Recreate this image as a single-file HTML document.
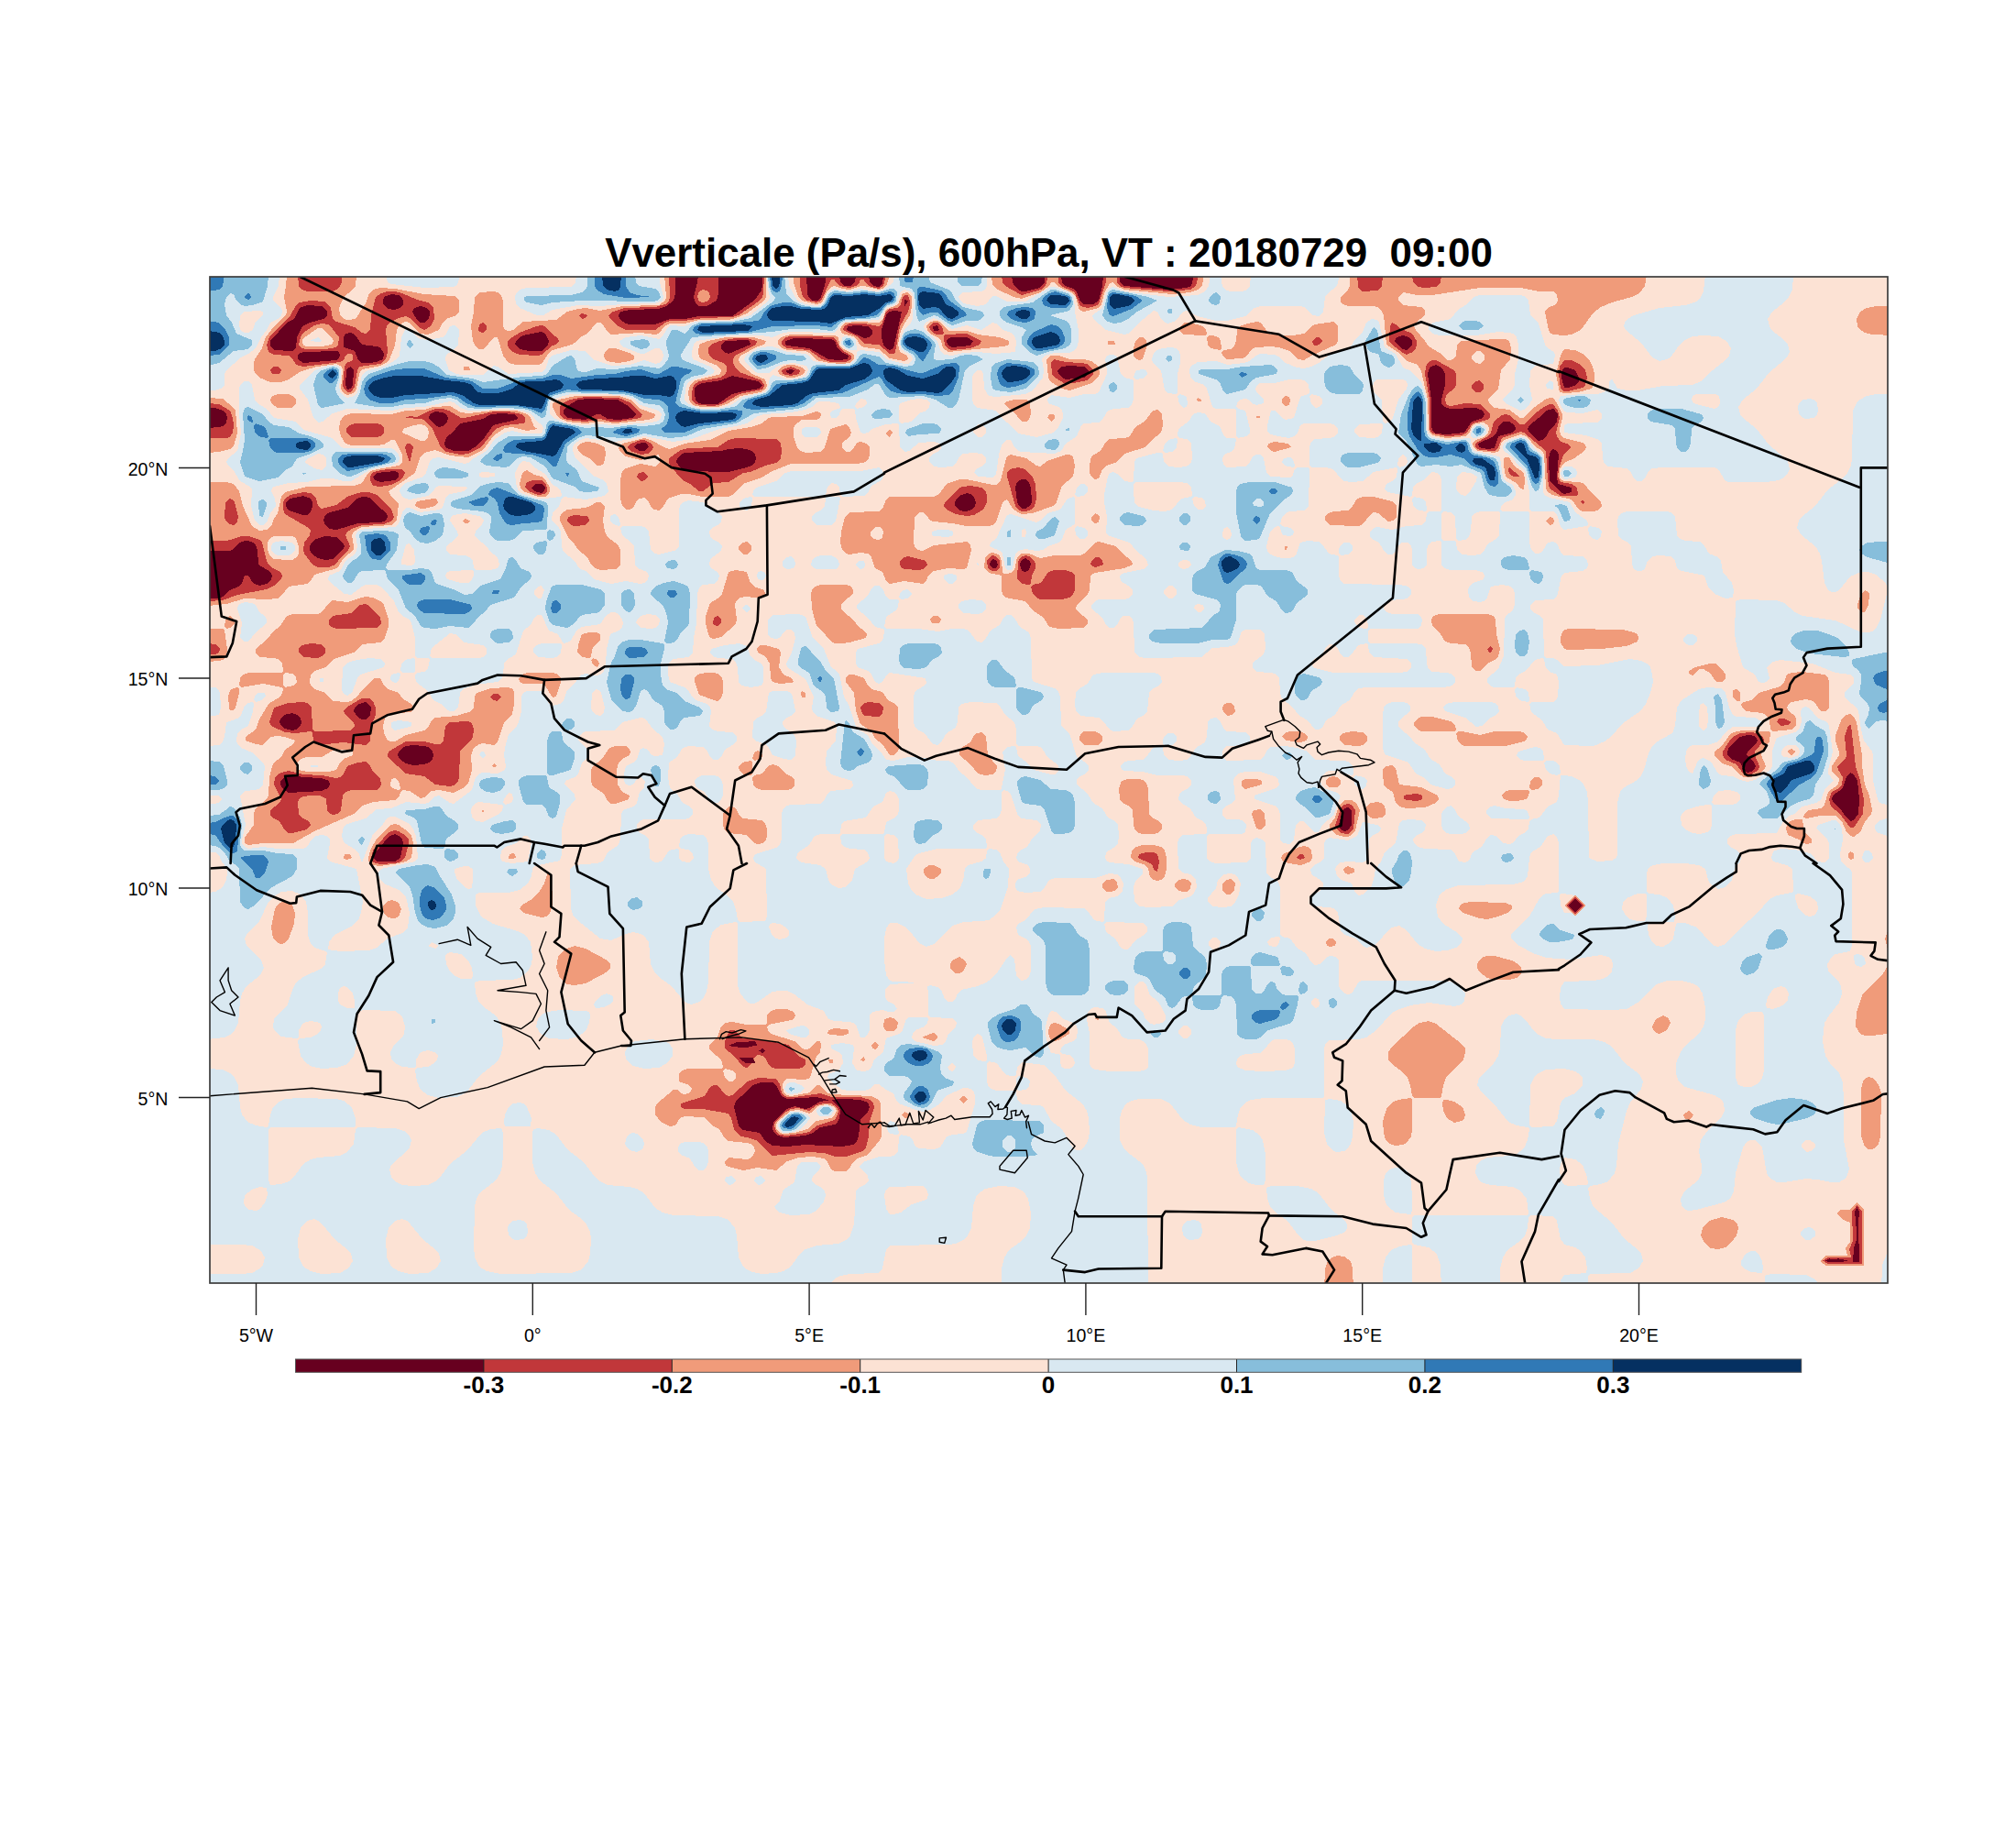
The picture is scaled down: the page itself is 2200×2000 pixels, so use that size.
<!DOCTYPE html>
<html lang="fr"><head><meta charset="utf-8"><title>Vverticale (Pa/s), 600hPa</title>
<style>
html,body{margin:0;padding:0;background:#fff}
body{width:2200px;height:2000px;overflow:hidden;font-family:"Liberation Sans",sans-serif}
svg{display:block}
.t{font-family:"Liberation Sans",sans-serif;fill:#000}
.ttl{font-weight:bold;font-size:43.9px;text-anchor:middle;white-space:pre}
.ax{font-size:19.6px}
.cb{font-weight:bold;font-size:26px;text-anchor:middle}
.bd{fill:none;stroke:#000;stroke-width:2.6;stroke-linejoin:round;stroke-linecap:round}
.bt{fill:none;stroke:#000;stroke-width:1.4;stroke-linejoin:round;stroke-linecap:round}
</style></head><body>
<svg width="2200" height="2000" viewBox="0 0 2200 2000">
<rect width="2200" height="2000" fill="#fff"/>
<defs><clipPath id="mc"><rect x="229" y="302" width="1831" height="1098"/></clipPath></defs>
<g clip-path="url(#mc)" shape-rendering="crispEdges">
<rect x="229" y="302" width="1831" height="1098" fill="#fce2d4"/>
<path fill="#d9e8f1" fill-rule="evenodd" d="M227,300 305,300 304,312 298,324 298,328 307,336 308,340 307,344 303,348 295,352 291,360 285,368 279,380 271,386 263,390 247,404 245,408 245,420 243,423 235,426 227,426 227,300ZM267,340 262,344 261,356 263,361 267,363 271,363 276,360 279,351 287,344 287,340 283,339 267,340ZM421,300 501,300 501,304 499,311 495,313 463,314 427,310 423,308 421,300ZM629,300 720,300 720,308 724,324 723,328 715,331 679,332 655,334 631,333 603,338 593,344 586,344 567,336 563,332 562,324 563,320 567,316 575,314 623,313 628,308 629,300ZM837,300 860,300 861,312 870,328 879,332 891,334 897,332 900,328 903,320 907,316 911,315 923,318 939,315 955,318 963,317 975,308 976,300 1077,300 1077,312 1075,316 1071,318 1051,319 1049,320 1046,324 1048,328 1051,331 1067,334 1076,332 1083,323 1087,323 1099,329 1119,329 1147,313 1151,313 1167,319 1172,324 1173,340 1177,360 1177,372 1175,380 1171,383 1167,385 1151,385 1140,388 1137,392 1139,404 1138,412 1127,426 1119,430 1087,433 1079,432 1074,424 1073,408 1071,404 1066,404 1062,408 1061,412 1061,436 1063,442 1067,445 1087,448 1095,458 1103,464 1111,473 1131,477 1150,472 1155,466 1160,456 1160,452 1159,448 1155,444 1144,440 1143,435 1147,431 1167,434 1183,430 1195,430 1199,428 1208,408 1208,404 1206,392 1208,388 1211,387 1215,387 1219,389 1223,408 1227,412 1235,414 1237,416 1237,436 1235,442 1231,445 1215,446 1209,448 1203,458 1199,461 1183,462 1180,464 1175,476 1163,484 1158,492 1151,495 1115,493 1111,492 1107,488 1103,480 1098,480 1094,484 1090,496 1087,518 1083,521 1068,520 1063,516 1065,512 1073,508 1076,504 1076,500 1071,495 1063,494 1051,495 1047,498 1043,506 1039,509 1027,510 1019,509 1014,504 1014,500 1017,496 1025,492 1027,489 1026,484 1019,482 1003,483 992,492 987,493 982,488 981,464 979,462 967,463 951,468 947,472 943,473 939,472 934,456 933,448 931,446 919,446 917,448 916,452 913,456 907,456 906,452 907,449 911,447 915,446 917,444 915,440 903,438 895,438 891,439 886,444 879,447 863,450 833,452 827,454 815,462 803,465 785,468 755,479 735,482 703,476 671,482 639,478 633,480 627,484 625,488 625,492 628,500 647,519 659,524 662,528 664,536 659,541 639,545 615,542 613,544 610,552 603,559 602,568 610,576 612,580 613,596 615,602 627,612 632,620 641,624 648,632 667,637 683,634 699,637 703,636 707,632 708,628 706,624 696,620 693,616 692,596 689,592 679,584 677,576 679,574 699,574 705,576 708,580 710,600 714,604 719,605 735,601 738,600 741,596 741,556 742,552 745,548 751,546 767,548 777,556 785,560 788,564 787,569 785,572 777,576 774,580 775,585 777,588 785,592 788,596 787,601 775,610 774,616 776,620 783,624 785,628 784,632 779,637 767,638 763,641 761,648 760,680 757,696 756,712 751,717 735,719 731,722 729,728 729,736 731,744 747,750 751,753 755,760 759,764 771,768 775,772 776,776 774,792 777,796 783,798 799,799 804,804 804,808 801,812 791,818 787,826 783,829 779,829 775,826 771,818 767,815 751,814 745,816 739,826 730,832 729,848 731,860 739,866 745,876 753,880 756,884 756,888 753,892 747,894 703,894 699,895 695,899 695,905 697,908 705,912 708,916 709,936 711,939 715,941 722,940 730,928 739,926 741,928 741,936 744,940 751,941 754,940 757,936 756,932 751,927 743,926 741,924 742,916 745,912 751,910 767,911 771,914 773,920 773,948 776,960 781,968 795,978 800,984 803,992 805,1004 807,1006 835,1005 837,1000 836,948 823,940 822,936 824,932 847,925 851,922 853,916 853,888 855,882 859,879 863,878 895,877 899,874 903,866 907,863 927,861 931,857 930,852 907,845 902,840 901,832 902,820 912,808 913,792 911,788 891,781 887,777 886,772 888,760 879,741 859,728 858,724 864,712 867,700 868,696 867,691 863,687 859,687 855,690 851,696 847,697 841,696 838,692 838,676 843,671 871,670 875,671 879,673 887,696 899,708 907,728 913,732 916,736 921,760 927,771 934,792 937,796 947,802 952,812 961,820 967,829 975,830 991,826 1003,826 1023,830 1035,830 1039,832 1043,836 1047,842 1055,848 1063,858 1067,861 1071,862 1091,862 1093,860 1097,840 1094,820 1099,815 1107,814 1109,816 1111,825 1121,832 1128,840 1147,845 1151,845 1155,841 1155,835 1143,826 1137,816 1131,814 1111,814 1109,812 1109,796 1107,788 1097,780 1091,770 1087,767 1059,766 1049,768 1046,772 1045,788 1043,794 1033,800 1027,810 1023,813 1018,812 1009,800 1001,796 998,792 997,788 997,760 999,754 1009,748 1011,745 1010,740 971,734 967,737 963,744 959,746 955,744 951,736 947,732 936,728 934,724 934,712 936,708 959,702 963,699 964,696 965,688 963,686 955,684 947,674 935,664 935,660 947,650 951,642 955,639 959,639 963,642 967,651 971,654 979,654 981,656 979,665 967,673 965,684 967,686 1003,686 1023,689 1039,686 1051,686 1057,688 1066,700 1071,701 1075,698 1081,688 1091,682 1095,674 1099,671 1103,671 1107,674 1113,684 1123,690 1125,696 1126,740 1128,744 1151,751 1155,754 1157,760 1158,792 1167,800 1175,826 1185,832 1188,836 1188,840 1185,844 1177,848 1175,851 1175,856 1187,866 1193,876 1203,882 1209,892 1217,896 1220,900 1221,912 1220,920 1217,924 1207,930 1206,936 1208,940 1211,941 1231,943 1247,948 1247,953 1239,962 1237,968 1238,984 1243,989 1255,990 1279,989 1287,982 1299,978 1303,974 1306,968 1305,960 1299,954 1290,952 1286,948 1285,920 1287,914 1291,911 1315,910 1317,908 1317,904 1316,900 1313,896 1305,892 1299,882 1289,876 1286,872 1287,867 1289,864 1297,860 1300,856 1300,852 1297,848 1291,846 1263,846 1247,842 1227,841 1224,840 1223,836 1226,832 1231,830 1247,829 1251,826 1258,816 1267,814 1269,816 1270,824 1275,829 1287,830 1295,829 1299,826 1305,816 1315,810 1317,804 1318,788 1321,784 1327,783 1331,786 1336,796 1339,798 1359,799 1364,804 1364,808 1359,813 1339,814 1336,816 1334,820 1334,824 1335,827 1339,830 1375,829 1379,826 1383,818 1387,815 1403,814 1415,816 1427,820 1435,829 1467,830 1473,832 1476,836 1477,840 1477,844 1475,846 1459,841 1451,841 1447,842 1441,848 1441,852 1442,856 1445,860 1459,865 1463,868 1455,890 1443,900 1439,908 1434,908 1423,896 1418,896 1414,900 1412,916 1407,921 1400,920 1397,916 1397,888 1395,882 1391,879 1369,872 1369,868 1371,867 1393,860 1396,856 1395,851 1391,847 1375,842 1359,842 1351,844 1347,848 1346,852 1348,872 1345,876 1337,880 1334,884 1334,888 1335,891 1339,894 1351,894 1357,896 1360,900 1359,908 1355,910 1319,910 1317,912 1317,936 1320,940 1327,942 1359,941 1362,940 1365,936 1365,920 1367,916 1371,914 1378,916 1381,920 1382,952 1385,956 1395,962 1397,968 1397,1020 1399,1022 1408,1024 1415,1034 1425,1040 1431,1050 1435,1053 1440,1052 1448,1044 1451,1043 1458,1044 1461,1048 1461,1076 1463,1080 1467,1084 1471,1085 1475,1084 1483,1071 1487,1070 1575,1070 1583,1071 1592,1076 1599,1084 1598,1092 1595,1096 1587,1098 1559,1094 1539,1097 1527,1101 1519,1105 1502,1124 1491,1132 1483,1134 1451,1135 1447,1138 1445,1144 1445,1192 1445,1196 1443,1198 1379,1198 1365,1200 1359,1203 1354,1208 1351,1216 1349,1228 1347,1230 1311,1230 1299,1227 1291,1222 1277,1204 1267,1199 1243,1199 1235,1201 1229,1204 1224,1212 1222,1220 1222,1244 1226,1252 1229,1256 1247,1270 1250,1276 1252,1284 1253,1408 1093,1408 1093,1384 1096,1372 1101,1364 1115,1354 1120,1348 1124,1340 1125,1324 1122,1308 1117,1300 1107,1295 1091,1294 1075,1297 1066,1304 1062,1316 1060,1340 1056,1348 1051,1353 1043,1357 1035,1358 971,1359 967,1364 963,1384 959,1389 927,1390 917,1392 911,1395 907,1399 905,1404 905,1408 227,1408 227,1390 263,1390 275,1389 284,1384 287,1380 289,1372 284,1364 275,1359 263,1358 227,1358 227,1166 243,1167 251,1171 255,1174 260,1184 262,1208 264,1216 270,1224 279,1228 291,1230 293,1228 295,1216 298,1208 303,1203 311,1199 327,1198 367,1199 375,1201 384,1208 388,1220 388,1228 387,1230 295,1230 293,1232 293,1248 293,1288 295,1293 307,1292 315,1289 321,1284 331,1270 339,1265 347,1263 371,1261 379,1257 386,1248 388,1232 391,1230 431,1231 443,1235 447,1240 449,1244 447,1252 443,1257 431,1267 427,1271 425,1276 427,1284 431,1289 439,1293 451,1294 467,1293 475,1289 479,1286 491,1270 509,1256 526,1236 535,1232 547,1231 549,1236 549,1260 548,1272 546,1280 541,1288 523,1302 520,1308 518,1316 517,1360 518,1372 523,1382 531,1387 547,1390 623,1389 635,1385 642,1376 644,1368 645,1352 644,1344 640,1336 635,1330 621,1320 607,1302 589,1288 584,1280 581,1268 581,1236 582,1232 587,1231 599,1233 607,1238 619,1254 637,1268 649,1284 655,1289 663,1293 687,1295 695,1297 703,1302 715,1318 723,1323 735,1326 783,1327 795,1331 802,1340 804,1348 806,1372 810,1380 813,1384 821,1388 831,1390 847,1389 855,1387 863,1382 873,1368 879,1363 891,1359 915,1357 923,1353 928,1348 932,1336 934,1300 937,1296 945,1292 948,1288 947,1283 939,1275 938,1272 942,1268 959,1262 971,1262 977,1260 980,1256 981,1240 983,1238 992,1240 996,1244 999,1251 1003,1253 1019,1254 1026,1252 1033,1240 1039,1238 1051,1237 1055,1235 1064,1204 1064,1196 1063,1192 1059,1188 1055,1187 1051,1187 1032,1196 1026,1204 1020,1208 1015,1211 1007,1213 999,1211 981,1204 978,1200 975,1193 967,1189 959,1183 955,1183 949,1188 943,1190 927,1190 919,1189 907,1180 903,1176 904,1172 915,1168 920,1160 919,1152 915,1148 907,1144 907,1140 919,1138 931,1140 932,1144 930,1160 935,1168 943,1169 947,1168 951,1164 954,1156 964,1148 967,1133 981,1128 985,1124 989,1112 991,1110 999,1110 1011,1110 1013,1112 1012,1116 1009,1120 999,1124 996,1128 995,1132 998,1136 1019,1141 1028,1140 1032,1136 1035,1128 1043,1121 1044,1116 1039,1111 1015,1110 1013,1108 1013,1084 1012,1076 1015,1075 1023,1077 1027,1080 1031,1090 1035,1093 1039,1093 1043,1090 1045,1084 1049,1080 1067,1076 1076,1072 1082,1068 1089,1060 1099,1045 1103,1042 1107,1047 1109,1064 1111,1067 1115,1070 1119,1069 1123,1066 1125,1060 1125,1032 1123,1028 1119,1024 1111,1020 1109,1012 1111,1008 1119,1004 1129,992 1139,990 1183,991 1187,994 1194,1004 1203,1006 1205,1004 1206,984 1210,980 1219,978 1225,972 1226,964 1223,958 1219,954 1211,953 1195,958 1151,958 1145,960 1139,970 1135,973 1119,974 1110,972 1108,968 1108,964 1110,960 1121,956 1124,952 1124,948 1122,944 1111,940 1109,936 1110,932 1113,928 1121,924 1127,914 1135,907 1136,900 1131,895 1115,893 1111,890 1103,866 1099,863 1095,862 1093,864 1093,884 1091,890 1087,893 1067,895 1062,900 1062,904 1065,908 1073,912 1076,916 1077,924 1075,926 1023,926 1003,931 999,933 989,948 991,964 995,972 999,976 1011,981 1027,980 1039,976 1047,970 1051,961 1053,948 1056,944 1071,940 1075,937 1076,936 1077,928 1079,926 1087,927 1091,930 1095,940 1101,948 1100,968 1092,992 1087,998 1079,1004 1071,1005 1051,1006 1039,1010 1019,1030 1011,1033 1003,1029 993,1016 987,1011 979,1007 971,1007 967,1013 965,1024 965,1048 967,1064 971,1070 975,1071 1006,1072 971,1074 966,1080 966,1088 968,1092 976,1096 979,1101 975,1104 969,1104 963,1102 952,1104 949,1108 949,1124 947,1128 943,1132 939,1132 935,1120 931,1116 927,1115 911,1114 904,1112 899,1103 881,1096 867,1085 859,1081 851,1081 843,1082 827,1093 823,1095 819,1095 814,1092 808,1084 805,1076 805,1012 805,1008 803,1006 787,1009 778,1016 774,1028 773,1072 771,1082 768,1088 763,1093 755,1096 751,1095 746,1092 733,1076 719,1066 714,1060 710,1052 708,1028 703,1021 699,1019 691,1017 683,1019 667,1026 655,1024 630,1004 626,1000 623,991 622,948 627,944 651,942 658,940 663,930 675,922 677,916 678,888 680,884 691,880 695,876 698,864 703,859 704,852 699,848 695,850 691,856 687,857 683,856 681,852 681,844 683,836 691,832 695,828 699,817 702,816 707,818 711,824 715,825 723,824 725,812 723,804 713,796 704,784 699,783 679,788 671,797 639,798 635,800 631,804 631,808 643,819 643,824 635,833 631,844 627,848 617,852 616,856 627,867 628,872 618,884 613,904 613,932 611,939 583,945 581,948 580,956 576,964 567,971 555,974 523,974 519,976 519,988 525,1000 538,1008 565,1016 573,1020 579,1028 581,1044 580,1052 576,1060 567,1067 559,1069 523,1070 518,1072 519,1084 522,1092 527,1098 541,1108 546,1116 548,1124 549,1140 547,1150 543,1158 523,1174 509,1192 499,1197 479,1198 467,1195 459,1189 455,1180 453,1168 455,1165 467,1164 474,1160 477,1156 478,1152 474,1148 467,1146 459,1148 454,1156 454,1164 451,1165 439,1164 431,1160 427,1156 426,1148 430,1140 439,1132 441,1128 442,1120 439,1109 431,1103 399,1102 391,1103 389,1104 389,1140 386,1152 379,1161 367,1165 351,1166 341,1164 334,1160 328,1152 325,1136 327,1133 339,1132 347,1128 350,1124 351,1120 349,1116 339,1114 331,1116 326,1124 326,1132 323,1133 307,1131 299,1124 298,1120 299,1112 314,1096 319,1080 323,1072 331,1066 352,1056 355,1052 356,1044 357,1040 355,1038 343,1034 339,1030 336,1020 336,996 334,984 328,976 319,972 307,973 299,978 293,984 283,1005 269,1020 267,1024 269,1032 285,1048 288,1056 284,1064 269,1076 264,1084 262,1092 260,1116 256,1124 251,1129 245,1132 227,1134 227,974 235,973 243,968 247,960 248,952 248,948 242,940 239,933 235,930 227,930 227,878 239,876 242,872 239,868 227,868 227,814 239,813 243,810 245,804 247,788 259,784 263,780 267,770 271,767 275,766 277,768 276,776 271,792 263,796 259,800 258,808 259,812 263,816 275,821 287,832 289,836 287,856 284,860 279,862 267,863 262,868 268,900 264,916 264,920 267,924 271,926 287,924 303,926 331,926 335,924 340,916 345,912 351,911 356,912 360,916 360,920 357,936 360,940 389,948 396,984 394,996 391,1004 383,1011 365,1020 359,1028 358,1036 371,1038 403,1037 411,1034 423,1024 439,1018 445,1012 447,996 443,979 435,971 419,964 415,960 412,952 416,948 453,940 456,936 454,912 451,905 447,899 431,891 427,891 423,892 415,903 407,910 395,941 392,932 389,928 375,919 373,912 375,902 379,899 399,893 411,883 427,882 443,875 463,877 467,876 475,869 479,868 491,876 495,877 515,862 519,848 523,844 527,843 543,844 551,840 552,836 550,824 551,816 555,801 563,794 566,788 569,776 569,760 571,756 575,754 591,754 599,768 603,770 611,768 615,764 619,753 627,746 634,736 639,735 651,737 655,736 659,732 661,724 662,708 666,692 675,688 679,684 680,680 679,676 675,670 671,668 667,668 661,672 655,681 635,684 629,688 623,699 619,701 615,702 609,692 599,688 591,671 587,671 583,674 579,682 571,688 563,714 553,720 550,724 549,736 547,741 543,744 519,747 505,752 502,756 500,772 495,776 491,776 487,774 481,768 473,764 467,754 455,745 453,740 453,736 455,734 463,733 467,729 469,720 467,718 455,718 453,716 453,696 449,680 447,676 439,672 435,668 430,656 419,643 415,640 411,638 399,638 395,640 383,649 376,648 361,636 358,632 359,628 371,623 373,620 377,612 388,604 390,596 388,584 391,579 399,577 431,575 435,572 439,559 443,554 447,554 459,559 479,556 483,554 487,542 491,539 507,536 510,532 507,531 479,530 475,532 473,536 467,541 447,545 443,544 439,542 436,536 437,532 443,527 462,520 465,516 469,504 472,500 479,499 507,506 511,505 517,500 531,492 539,480 551,472 559,470 571,473 591,473 593,468 592,464 586,460 580,452 571,448 551,446 523,448 511,448 503,445 495,439 491,438 463,444 443,445 427,448 379,446 363,451 352,460 347,461 342,456 336,436 327,424 327,420 343,404 359,399 367,399 370,400 372,404 372,412 370,420 371,428 375,432 379,434 383,433 387,432 390,428 395,409 399,405 419,400 433,392 436,388 438,368 443,358 447,359 455,368 459,370 467,371 483,368 487,364 491,356 495,355 498,356 501,360 500,376 497,380 487,387 486,392 490,404 498,408 503,409 527,409 539,399 543,400 555,408 591,406 595,403 599,392 602,388 623,382 639,383 647,392 667,399 687,398 703,393 715,397 719,396 723,392 724,388 723,384 719,380 715,380 703,386 699,386 679,378 677,376 676,372 683,368 699,366 719,370 723,367 727,360 731,355 747,356 759,351 767,350 799,350 819,344 839,328 840,324 838,316 837,300ZM983,318 979,330 975,333 967,336 959,349 923,351 919,353 911,363 863,362 855,363 843,368 831,366 799,366 760,372 757,376 755,384 755,388 756,392 775,400 780,404 778,408 759,413 751,417 748,424 747,436 750,440 763,446 787,445 799,441 811,433 834,428 838,424 840,412 843,409 859,414 871,413 879,410 882,404 881,400 879,399 867,396 855,397 848,400 839,407 827,407 822,404 814,396 812,392 814,388 827,380 839,378 843,378 859,384 879,386 883,388 887,394 903,397 927,397 934,392 935,384 939,382 959,384 967,392 987,397 991,397 996,392 995,388 983,381 982,372 987,359 994,352 996,348 997,324 995,319 991,317 987,316 983,318ZM1019,347 1010,352 1008,356 1009,360 1023,372 1027,384 1031,387 1039,388 1051,385 1067,384 1087,386 1108,384 1109,372 1107,367 1103,363 1095,360 1087,353 1083,352 1071,360 1055,355 1039,359 1035,357 1027,350 1019,347ZM1067,463 1062,468 1062,472 1067,477 1071,477 1076,472 1076,468 1071,463 1067,463ZM699,672 695,676 694,680 699,685 711,686 715,685 719,682 720,676 715,671 707,670 699,672ZM843,1007 840,1008 839,1012 843,1021 847,1024 851,1025 859,1023 861,1020 861,1016 858,1012 851,1008 843,1007ZM971,863 967,865 963,875 953,880 945,892 921,896 918,900 917,908 915,910 895,910 889,912 883,922 871,930 869,936 871,939 875,941 895,944 901,948 904,960 907,965 915,969 923,968 930,960 933,948 947,940 949,936 947,930 943,927 927,926 921,924 918,920 917,912 919,910 963,910 965,908 967,897 977,892 980,888 981,884 981,872 979,868 975,864 971,863ZM1291,1119 1286,1124 1286,1128 1291,1133 1295,1133 1300,1128 1300,1124 1295,1119 1291,1119ZM1335,954 1329,960 1327,969 1318,980 1318,984 1323,989 1335,990 1343,989 1347,986 1352,976 1354,964 1351,958 1347,954 1343,953 1335,954ZM1387,1023 1383,1028 1385,1032 1391,1033 1394,1032 1396,1028 1397,1024 1395,1022 1387,1023ZM1435,1089 1431,1092 1431,1096 1435,1100 1439,1099 1440,1096 1439,1090 1435,1089ZM283,1295 275,1298 267,1304 266,1312 267,1316 272,1320 279,1321 283,1320 289,1312 292,1304 291,1296 283,1295ZM335,1332 328,1340 325,1352 326,1372 331,1382 339,1387 351,1390 371,1389 380,1384 385,1376 383,1368 380,1364 365,1352 352,1336 347,1332 343,1330 335,1332ZM431,1332 424,1340 421,1352 422,1372 427,1382 435,1387 447,1390 467,1389 476,1384 481,1376 479,1368 476,1364 461,1352 448,1336 444,1332 439,1330 431,1332ZM971,1295 967,1298 965,1304 967,1319 971,1325 975,1325 983,1323 995,1314 1011,1309 1013,1304 1011,1297 1007,1294 971,1295ZM1039,1160 1034,1164 1036,1168 1039,1169 1041,1168 1043,1164 1039,1160ZM1067,1128 1063,1131 1061,1136 1062,1152 1067,1157 1075,1158 1077,1156 1077,1152 1072,1132 1071,1130 1067,1128ZM1079,1158 1077,1160 1077,1180 1078,1184 1081,1188 1087,1190 1107,1190 1109,1192 1110,1200 1115,1205 1135,1206 1139,1208 1147,1223 1159,1232 1171,1253 1175,1255 1179,1255 1183,1252 1187,1245 1189,1236 1188,1220 1186,1212 1181,1204 1163,1190 1153,1176 1141,1164 1139,1162 1115,1159 1110,1164 1109,1172 1107,1174 1103,1174 1099,1173 1095,1170 1088,1160 1079,1158ZM1147,1103 1144,1108 1141,1120 1141,1128 1143,1139 1147,1149 1155,1150 1157,1152 1157,1160 1159,1165 1163,1166 1167,1166 1171,1164 1173,1160 1172,1156 1167,1151 1159,1150 1157,1148 1158,1144 1161,1140 1171,1136 1175,1132 1176,1124 1175,1120 1171,1116 1161,1112 1152,1104 1147,1103ZM1195,1099 1191,1100 1187,1104 1186,1112 1189,1128 1189,1160 1190,1164 1195,1167 1211,1169 1243,1169 1251,1167 1253,1164 1253,1156 1253,1144 1251,1140 1247,1136 1243,1134 1231,1134 1225,1132 1219,1122 1211,1116 1207,1104 1203,1100 1195,1099ZM1207,1006 1205,1008 1207,1017 1217,1024 1223,1034 1227,1036 1231,1036 1239,1026 1249,1020 1252,1016 1252,1012 1247,1007 1207,1006ZM375,1076 371,1078 369,1084 369,1092 371,1096 379,1100 387,1100 387,1092 385,1084 379,1077 375,1076ZM471,1028 467,1032 475,1035 479,1032 471,1028ZM491,1039 487,1041 486,1044 487,1052 491,1060 495,1064 503,1068 515,1068 516,1064 515,1056 511,1048 503,1041 491,1039ZM499,947 496,948 496,952 499,960 507,968 511,970 515,969 516,960 516,948 511,945 507,945 499,947ZM523,875 519,876 515,880 514,884 515,892 520,896 527,897 531,895 545,888 548,884 549,880 547,878 523,875ZM555,865 550,872 549,876 551,878 558,876 560,872 559,866 555,865ZM575,912 571,912 563,920 551,924 547,928 546,936 548,940 559,942 576,940 580,920 579,915 575,912ZM651,752 646,756 645,772 646,776 650,780 655,781 659,777 660,772 656,756 655,754 651,752ZM443,594 438,612 438,616 447,617 452,616 453,612 452,600 447,593 443,594ZM507,560 495,562 492,564 491,568 499,580 500,584 497,588 487,596 487,601 491,605 507,606 513,608 516,612 517,620 519,622 535,622 543,620 545,616 543,608 535,602 531,596 521,588 518,584 519,580 526,572 528,568 527,566 523,563 507,560ZM527,515 523,516 523,520 527,521 540,520 540,516 527,515ZM571,503 567,506 562,516 563,528 566,536 571,539 587,544 595,544 611,542 613,540 612,536 609,532 603,529 595,517 583,510 577,504 571,503ZM615,432 602,436 600,440 600,452 604,456 619,462 635,464 655,463 671,464 711,461 719,459 721,456 722,452 719,448 699,442 691,435 683,432 663,430 623,430 615,432ZM939,435 934,440 933,444 935,446 943,444 946,440 945,436 939,435ZM995,436 982,440 981,444 981,460 983,462 995,460 1003,451 1011,448 1014,444 1015,440 1011,436 1003,435 995,436ZM967,910 965,912 965,936 967,940 975,942 979,940 981,936 980,916 975,911 967,910ZM1323,1023 1319,1028 1319,1032 1323,1036 1327,1036 1331,1033 1332,1028 1327,1023 1323,1023ZM1387,1136 1379,1146 1375,1149 1359,1150 1353,1152 1350,1156 1349,1160 1350,1164 1359,1168 1379,1169 1403,1168 1411,1165 1413,1160 1413,1152 1413,1144 1411,1138 1407,1135 1403,1134 1391,1134 1387,1136ZM1243,1071 1238,1076 1238,1096 1247,1104 1250,1112 1254,1116 1259,1118 1268,1116 1272,1112 1272,1108 1267,1098 1263,1092 1255,1086 1251,1074 1247,1071 1243,1071ZM491,623 488,624 486,628 488,632 503,636 511,636 515,632 517,628 517,624 515,622 491,623ZM587,640 583,644 583,648 587,653 591,653 594,644 591,639 587,640ZM491,691 471,707 469,716 471,718 523,718 529,716 531,713 531,708 527,704 507,701 497,692 491,691ZM1321,300 1333,300 1333,308 1335,314 1339,317 1343,318 1355,318 1361,316 1364,312 1365,300 1461,300 1461,304 1459,312 1449,320 1446,324 1444,340 1439,345 1432,344 1425,336 1419,334 1375,334 1369,336 1359,345 1339,350 1327,350 1307,345 1295,339 1291,340 1283,350 1275,353 1271,352 1267,348 1263,340 1259,339 1243,352 1231,364 1227,365 1207,360 1193,348 1192,344 1199,339 1203,335 1207,320 1211,314 1215,313 1227,318 1275,324 1307,322 1315,318 1319,312 1321,300ZM1861,300 1957,300 1956,316 1952,324 1947,330 1934,340 1929,348 1931,356 1933,360 1947,371 1951,376 1953,384 1951,388 1947,393 1931,406 1917,424 1902,436 1897,444 1899,452 1902,456 1917,468 1931,486 1947,499 1951,504 1953,512 1951,516 1947,521 1941,524 1927,526 1887,526 1883,525 1875,512 1871,510 1815,510 1803,511 1799,514 1795,522 1791,525 1787,525 1783,522 1779,514 1775,511 1755,509 1751,506 1749,500 1748,484 1745,480 1731,475 1707,472 1707,464 1711,462 1743,461 1748,456 1748,452 1743,447 1727,451 1711,450 1707,449 1702,440 1701,436 1703,432 1727,430 1743,430 1750,428 1756,424 1756,416 1759,413 1765,424 1775,426 1787,426 1815,421 1847,420 1856,416 1869,404 1884,392 1887,388 1889,380 1884,372 1875,367 1859,366 1847,367 1839,371 1833,376 1823,390 1819,392 1811,394 1803,390 1791,374 1775,361 1772,356 1773,352 1776,348 1783,344 1811,336 1839,333 1851,329 1856,324 1859,318 1861,300ZM1851,430 1847,432 1846,436 1848,440 1851,441 1871,446 1875,444 1877,440 1877,436 1875,431 1871,430 1851,430ZM1608,324 1615,322 1631,322 1659,322 1665,324 1668,328 1670,344 1679,353 1686,376 1689,380 1696,384 1697,388 1695,397 1675,399 1670,404 1669,420 1672,436 1667,444 1663,447 1659,448 1643,440 1640,436 1651,424 1653,420 1653,408 1657,392 1657,376 1655,368 1651,364 1647,363 1635,362 1611,366 1571,366 1563,364 1559,360 1559,356 1563,352 1583,348 1591,338 1601,332 1608,324ZM379,340 383,340 379,340ZM1497,348 1503,349 1505,352 1511,379 1523,386 1531,401 1538,404 1551,416 1557,436 1557,468 1559,474 1563,477 1579,480 1603,478 1605,480 1606,488 1608,492 1631,497 1635,498 1637,500 1640,520 1643,525 1651,529 1654,536 1654,540 1651,545 1643,548 1639,551 1637,556 1639,558 1667,558 1669,560 1669,592 1671,600 1675,604 1679,604 1683,602 1689,592 1695,591 1699,593 1704,604 1707,606 1727,607 1732,612 1733,616 1732,620 1727,623 1707,625 1704,628 1700,648 1698,652 1695,654 1675,655 1670,660 1670,664 1673,668 1681,672 1684,676 1685,716 1687,718 1695,718 1699,720 1707,727 1743,726 1779,719 1791,721 1797,724 1801,728 1803,736 1804,744 1801,756 1796,768 1790,776 1771,789 1758,804 1751,809 1739,814 1707,813 1699,800 1689,796 1683,786 1671,777 1669,768 1671,766 1695,766 1699,763 1700,760 1701,744 1699,736 1691,733 1687,729 1685,720 1683,718 1675,720 1665,732 1657,736 1654,740 1653,748 1651,750 1631,750 1627,749 1623,745 1623,740 1635,730 1641,716 1642,676 1643,672 1651,666 1653,660 1653,648 1652,644 1649,640 1639,638 1627,640 1623,652 1619,656 1615,657 1608,656 1603,652 1602,644 1603,640 1607,636 1619,632 1620,628 1619,625 1611,622 1583,622 1576,620 1573,616 1573,592 1571,590 1563,591 1559,594 1557,600 1557,616 1554,620 1547,621 1544,620 1541,616 1541,600 1540,596 1536,592 1530,592 1527,594 1523,602 1519,605 1515,605 1511,602 1505,592 1497,588 1495,585 1495,580 1499,576 1503,575 1519,578 1535,574 1551,573 1556,568 1557,560 1559,558 1571,558 1573,556 1573,524 1572,520 1569,516 1563,515 1561,516 1553,524 1545,528 1542,532 1541,540 1539,542 1515,537 1513,536 1511,533 1513,528 1521,524 1524,520 1525,512 1523,510 1499,515 1487,525 1475,526 1467,525 1463,522 1455,512 1447,510 1431,510 1429,508 1429,488 1431,482 1435,479 1451,478 1457,476 1460,472 1460,468 1457,464 1451,462 1423,462 1419,464 1416,472 1412,476 1407,478 1395,476 1387,474 1383,471 1383,464 1387,448 1391,448 1399,456 1403,458 1412,456 1419,433 1427,430 1429,428 1428,420 1425,416 1419,414 1407,414 1391,418 1375,418 1372,420 1370,424 1371,428 1379,435 1379,440 1371,442 1366,440 1363,436 1359,435 1353,436 1350,440 1349,444 1351,446 1359,448 1364,468 1364,472 1360,476 1351,478 1349,476 1349,448 1347,446 1327,446 1323,444 1317,424 1314,420 1303,416 1299,412 1298,404 1299,400 1307,395 1327,394 1339,398 1358,396 1363,394 1371,388 1375,386 1391,387 1395,389 1403,396 1415,401 1423,402 1431,400 1439,396 1451,387 1473,380 1479,370 1487,362 1491,352 1497,348ZM1503,414 1499,417 1498,424 1499,428 1508,436 1509,460 1511,462 1515,461 1520,456 1526,436 1535,424 1536,420 1535,416 1531,414 1503,414ZM1575,558 1573,560 1573,588 1575,590 1587,590 1589,592 1590,600 1595,605 1607,606 1615,605 1619,602 1623,594 1633,588 1636,584 1637,560 1635,558 1615,558 1609,560 1606,564 1605,580 1603,586 1599,589 1591,590 1589,588 1588,564 1583,559 1575,558ZM1595,515 1590,520 1589,532 1590,536 1594,540 1599,541 1603,538 1611,525 1612,520 1605,516 1595,515ZM1431,430 1429,432 1431,441 1435,445 1440,444 1443,440 1443,436 1439,432 1431,430ZM1483,463 1478,468 1478,472 1483,477 1499,478 1505,476 1508,472 1509,464 1507,462 1483,463ZM1531,496 1526,500 1525,508 1527,510 1534,508 1536,504 1535,499 1531,496ZM919,368 923,367 931,369 934,372 935,382 927,382 922,380 918,376 919,368ZM338,372 347,368 352,372 347,373 338,372ZM1268,380 1279,379 1283,380 1287,384 1288,388 1288,396 1285,408 1285,428 1283,430 1275,429 1271,426 1267,404 1258,396 1257,392 1259,385 1263,382 1268,380ZM1240,404 1247,403 1251,404 1252,408 1247,413 1239,414 1237,412 1238,408 1240,404ZM266,416 271,416 275,420 278,436 281,440 291,446 299,456 323,460 331,469 363,478 371,487 375,489 427,489 431,491 435,496 436,500 435,504 427,508 405,512 383,525 375,525 363,522 351,522 335,526 315,527 299,531 297,532 296,536 300,544 301,552 295,560 291,570 287,573 283,573 278,568 274,552 275,534 274,532 261,524 255,513 249,508 247,504 249,500 259,492 260,488 263,472 261,452 261,424 262,420 266,416ZM347,495 337,500 332,504 343,511 351,513 356,508 356,500 353,496 347,495ZM1690,416 1691,415 1695,417 1695,425 1688,424 1687,420 1690,416ZM1285,432 1287,430 1291,431 1295,433 1296,440 1295,444 1291,445 1287,441 1285,432ZM2037,432 2047,430 2067,430 2067,812 2063,812 2060,824 2060,844 2063,872 2062,876 2059,878 2051,876 2049,872 2044,852 2044,824 2043,820 2034,808 2031,796 2028,776 2026,772 2016,764 2013,760 2013,756 2015,753 2023,745 2023,739 2019,736 2003,734 1978,724 1943,720 1935,722 1928,728 1931,740 1928,744 1923,745 1919,744 1915,736 1902,728 1895,704 1893,692 1894,656 1899,654 1939,655 1947,658 1959,668 1967,672 2003,677 2031,690 2039,690 2043,689 2048,684 2052,676 2059,648 2059,640 2058,636 2047,627 2039,624 2031,624 2019,629 2007,644 2003,646 1999,646 1995,644 1991,636 1988,612 1986,604 1981,596 1966,584 1961,576 1963,568 1966,564 1981,552 1995,534 2011,522 2016,516 2020,508 2021,500 2022,448 2027,438 2037,432ZM1968,436 1975,435 1979,436 1983,440 1984,448 1983,452 1979,456 1971,457 1967,456 1963,452 1962,444 1963,440 1968,436ZM1302,452 1307,450 1315,451 1321,460 1331,465 1336,476 1339,478 1347,478 1349,480 1347,489 1343,493 1336,496 1334,500 1335,507 1339,510 1359,509 1363,506 1367,498 1371,496 1375,496 1379,500 1382,516 1387,520 1407,521 1410,520 1413,512 1415,510 1427,510 1429,512 1428,552 1423,557 1407,558 1403,560 1399,564 1397,572 1399,574 1408,576 1412,580 1411,584 1407,585 1400,584 1398,580 1397,576 1395,574 1391,575 1386,580 1382,596 1383,601 1385,604 1391,607 1399,609 1407,609 1411,608 1415,604 1419,592 1427,590 1439,591 1443,594 1450,604 1459,606 1461,608 1461,628 1463,634 1467,637 1527,638 1537,640 1540,644 1540,648 1537,652 1531,654 1515,655 1510,660 1510,664 1513,668 1519,670 1547,670 1551,673 1552,676 1551,683 1547,686 1543,686 1495,686 1493,688 1493,700 1495,702 1543,702 1551,703 1556,708 1557,724 1559,730 1563,733 1579,734 1585,736 1588,740 1588,744 1585,748 1575,750 1491,750 1483,751 1479,754 1473,764 1463,770 1457,780 1447,786 1443,794 1439,796 1435,796 1427,786 1417,780 1411,772 1399,762 1397,756 1396,740 1393,736 1387,734 1371,733 1367,729 1367,723 1379,714 1381,708 1380,692 1375,687 1359,687 1355,689 1351,700 1347,704 1339,706 1323,707 1311,717 1251,718 1243,717 1238,712 1237,680 1236,676 1232,672 1226,672 1223,674 1219,682 1215,685 1211,685 1207,682 1203,674 1191,664 1191,660 1195,656 1199,654 1227,654 1233,652 1236,648 1236,644 1233,640 1223,634 1222,628 1227,625 1247,621 1250,620 1253,616 1251,610 1239,600 1233,592 1211,585 1207,582 1208,564 1205,548 1205,540 1209,520 1211,516 1215,515 1219,517 1227,525 1235,526 1237,524 1238,504 1240,500 1263,494 1267,494 1269,496 1270,504 1275,509 1287,510 1297,508 1300,504 1301,500 1300,484 1295,479 1287,478 1285,476 1285,472 1287,467 1297,460 1302,452ZM1303,542 1301,544 1303,552 1307,556 1312,556 1316,552 1315,547 1311,543 1303,542ZM1339,575 1335,577 1334,584 1335,587 1339,589 1343,587 1344,584 1343,578 1339,575ZM1451,703 1447,706 1443,714 1433,720 1431,723 1433,728 1435,729 1455,734 1527,734 1535,733 1540,728 1540,724 1535,719 1499,717 1494,712 1493,704 1491,702 1482,704 1475,714 1471,717 1467,717 1463,714 1459,706 1456,704 1451,703ZM1483,671 1478,676 1479,681 1483,685 1491,686 1493,684 1492,676 1487,671 1483,671ZM1239,526 1237,528 1237,536 1238,548 1239,550 1243,553 1259,557 1271,558 1279,556 1289,544 1299,542 1301,540 1300,532 1295,527 1287,526 1239,526ZM1307,659 1304,660 1303,664 1307,668 1311,668 1314,664 1313,660 1307,659ZM1275,639 1270,644 1270,648 1275,653 1279,653 1284,648 1284,644 1279,639 1275,639ZM1291,611 1287,613 1286,616 1287,619 1291,621 1296,620 1300,616 1299,613 1295,611 1291,611ZM1610,464 1615,463 1619,464 1622,468 1622,472 1619,475 1611,478 1607,478 1605,476 1606,468 1610,464ZM875,468 879,466 891,466 895,468 896,472 891,477 879,477 875,474 875,468ZM1275,480 1283,478 1285,480 1284,488 1279,493 1271,494 1269,492 1270,488 1271,484 1275,480ZM1647,480 1659,477 1663,477 1668,480 1675,490 1683,496 1685,504 1684,536 1685,540 1691,543 1713,548 1719,559 1732,568 1733,572 1731,574 1707,578 1703,575 1699,561 1695,558 1671,558 1669,556 1669,536 1665,516 1663,512 1655,506 1651,499 1641,492 1640,488 1641,484 1647,480ZM1401,500 1407,499 1410,500 1412,504 1413,508 1411,510 1402,508 1399,504 1401,500ZM950,512 959,510 962,512 964,516 964,520 962,524 951,530 947,538 943,541 919,542 917,540 916,532 912,528 907,527 903,531 901,540 903,542 915,542 917,544 912,568 907,573 891,573 886,568 886,564 889,560 897,556 900,552 901,544 899,542 823,542 821,540 822,536 825,532 847,525 857,516 863,514 939,514 950,512ZM1705,512 1707,509 1715,509 1720,512 1721,516 1720,520 1715,522 1707,523 1704,520 1703,516 1705,512ZM1175,532 1179,528 1183,528 1187,532 1187,536 1183,541 1175,542 1173,540 1175,532ZM811,544 819,542 821,544 820,552 815,557 810,556 807,552 807,548 811,544ZM1165,544 1171,542 1173,544 1173,572 1163,578 1159,588 1155,592 1144,596 1138,600 1131,601 1119,599 1111,601 1108,604 1105,620 1103,622 1099,622 1097,620 1094,604 1091,601 1080,596 1081,592 1087,588 1099,562 1103,561 1131,570 1135,568 1143,560 1157,556 1165,544ZM1115,578 1115,586 1119,586 1120,580 1119,577 1115,578ZM1541,544 1543,542 1552,544 1556,548 1557,556 1555,558 1546,556 1542,552 1541,544ZM1769,560 1775,558 1791,558 1819,558 1825,560 1828,564 1830,584 1833,588 1839,590 1855,591 1859,594 1865,604 1875,608 1878,612 1880,624 1890,636 1892,644 1891,652 1883,653 1871,648 1864,640 1860,628 1835,623 1830,620 1828,612 1823,607 1811,606 1803,607 1798,612 1795,621 1791,623 1787,623 1783,621 1781,616 1780,596 1777,592 1769,588 1766,584 1765,568 1766,564 1769,560ZM666,564 667,562 671,561 675,564 677,572 675,574 669,572 666,568 666,564ZM1173,576 1175,574 1183,576 1187,580 1187,584 1183,588 1178,588 1174,584 1173,576ZM1733,576 1735,574 1744,576 1748,580 1747,585 1743,589 1738,588 1734,584 1733,576ZM1017,580 1023,578 1035,578 1040,580 1040,584 1035,586 1019,585 1017,584 1017,580ZM298,592 307,590 319,592 322,596 322,600 319,604 315,606 303,606 299,604 296,600 296,596 298,592ZM1466,592 1472,592 1476,596 1476,600 1471,605 1463,606 1461,604 1461,600 1462,596 1466,592ZM858,608 863,607 867,610 868,616 866,620 859,621 855,619 854,616 854,612 858,608ZM889,608 895,606 907,606 911,608 915,612 916,616 914,620 911,621 891,621 888,620 885,616 886,612 889,608ZM937,612 943,612 944,616 943,620 939,621 935,618 934,616 937,612ZM1066,616 1067,613 1068,616 1067,617 1066,616ZM827,624 831,623 835,625 836,628 834,632 831,633 827,632 826,628 827,624ZM1030,628 1035,626 1039,626 1044,628 1044,632 1039,637 1035,637 1030,632 1030,628ZM985,644 991,643 995,648 991,653 983,654 981,652 982,648 985,644ZM1049,656 1059,654 1071,655 1076,660 1076,664 1073,668 1067,670 1051,669 1046,664 1046,660 1049,656ZM260,660 267,657 275,658 279,660 283,668 289,672 291,676 291,680 279,690 271,700 267,700 262,696 264,680 259,664 260,660ZM813,660 816,660 819,664 815,668 810,664 813,660ZM1842,692 1847,692 1851,694 1852,696 1852,700 1847,704 1843,704 1839,702 1837,700 1837,696 1842,692ZM585,704 591,702 611,702 613,704 612,712 609,716 603,718 587,717 582,712 582,708 585,704ZM791,704 807,702 815,705 819,716 823,720 831,724 833,728 833,744 831,748 819,750 809,748 806,744 805,728 803,722 799,719 783,718 778,716 775,712 776,708 791,704ZM390,720 403,718 415,719 420,724 419,728 393,736 390,740 384,756 379,759 374,756 373,752 374,728 379,723 390,720ZM442,720 451,718 453,720 453,732 451,734 439,734 437,732 438,724 442,720ZM427,736 435,734 437,736 436,740 434,744 431,745 427,743 426,740 427,736ZM1193,736 1203,734 1259,734 1263,735 1267,739 1268,744 1265,748 1257,752 1254,756 1252,776 1249,780 1241,784 1235,794 1231,797 1215,798 1211,796 1203,786 1199,783 1179,781 1174,776 1173,768 1174,756 1177,752 1187,746 1193,736ZM349,740 353,740 353,744 349,744 349,740ZM227,752 227,750 235,750 239,753 240,756 241,772 239,780 227,782 227,752ZM1653,752 1655,750 1664,752 1668,756 1669,764 1667,766 1658,764 1654,760 1653,752ZM1854,752 1863,750 1879,751 1883,756 1887,772 1891,780 1895,782 1915,783 1924,788 1923,792 1919,793 1891,793 1883,799 1875,809 1863,813 1847,813 1843,815 1840,820 1839,828 1840,836 1843,842 1847,844 1852,832 1855,828 1859,827 1867,831 1875,844 1879,846 1891,847 1899,851 1907,853 1915,851 1923,846 1932,840 1934,836 1934,820 1939,805 1959,799 1963,796 1966,788 1965,776 1967,772 1971,771 1975,773 1983,783 1994,788 1996,792 2000,820 1995,840 1995,844 2001,852 1992,860 1987,873 1982,876 1967,880 1958,888 1951,891 1946,896 1939,909 1895,910 1891,911 1887,913 1885,916 1885,920 1888,924 1896,928 1899,932 1900,936 1899,940 1893,948 1890,960 1883,968 1875,970 1867,965 1864,960 1861,948 1854,944 1839,942 1815,942 1804,944 1799,947 1797,952 1797,972 1799,975 1811,976 1820,980 1826,988 1828,1000 1827,1006 1799,1007 1798,1012 1799,1020 1803,1028 1807,1032 1815,1033 1823,1028 1826,1024 1829,1008 1831,1007 1839,1007 1852,1012 1866,1028 1871,1032 1875,1033 1883,1030 1900,1012 1918,996 1931,981 1939,977 1955,974 1957,972 1956,948 1950,944 1935,940 1933,936 1935,929 1943,926 1959,927 1975,931 1977,932 1983,940 1991,941 1996,936 1996,920 1994,916 1982,904 1984,900 1999,895 2003,895 2007,898 2010,904 2011,916 2008,932 2009,940 2015,946 2019,948 2021,952 2021,1032 2019,1038 2003,1041 1999,1044 1994,1052 1995,1060 2007,1072 2009,1076 2010,1084 2007,1094 1996,1108 1991,1116 1990,1124 1989,1136 1992,1152 1997,1160 2007,1171 2011,1181 2012,1200 2012,1244 2018,1276 2015,1285 2007,1290 1999,1290 1983,1287 1971,1286 1947,1290 1939,1290 1931,1285 1928,1280 1923,1252 1919,1247 1915,1244 1910,1244 1907,1245 1902,1252 1894,1280 1892,1300 1888,1308 1881,1312 1851,1320 1843,1321 1839,1320 1835,1316 1834,1308 1838,1300 1853,1288 1857,1280 1857,1272 1854,1256 1856,1244 1863,1234 1878,1220 1882,1212 1881,1204 1879,1200 1871,1195 1839,1186 1832,1180 1829,1172 1829,1160 1834,1148 1839,1141 1854,1128 1859,1120 1861,1112 1861,1100 1858,1084 1853,1076 1847,1073 1835,1070 1819,1070 1807,1074 1787,1094 1775,1101 1759,1102 1707,1101 1703,1095 1702,1088 1703,1078 1707,1071 1739,1070 1749,1068 1755,1065 1759,1060 1760,1052 1759,1048 1755,1044 1747,1042 1715,1047 1687,1045 1675,1041 1658,1032 1649,1024 1649,1020 1652,1016 1669,1000 1679,982 1683,977 1687,975 1699,974 1701,972 1701,920 1699,913 1695,910 1689,912 1681,924 1671,930 1669,936 1667,956 1663,962 1651,965 1591,966 1579,970 1571,976 1567,988 1569,1000 1575,1008 1591,1018 1596,1024 1595,1028 1591,1033 1579,1037 1567,1038 1555,1035 1547,1030 1535,1015 1527,1010 1519,1012 1515,1015 1504,1028 1499,1032 1491,1034 1487,1032 1479,1024 1467,1020 1463,1016 1460,996 1457,992 1451,990 1435,989 1431,985 1431,979 1433,976 1441,972 1444,968 1444,964 1441,960 1431,954 1430,948 1434,944 1442,940 1445,936 1445,920 1447,916 1451,914 1471,917 1481,912 1487,897 1503,900 1507,904 1505,908 1497,912 1494,916 1493,936 1491,939 1487,941 1471,940 1463,941 1459,944 1457,948 1459,956 1463,960 1475,964 1479,974 1483,977 1487,976 1496,968 1499,960 1501,948 1507,940 1511,930 1523,920 1527,898 1531,895 1539,894 1551,895 1556,900 1555,905 1553,908 1545,912 1542,916 1543,920 1547,924 1555,926 1583,927 1587,930 1592,940 1599,941 1603,939 1607,930 1617,924 1623,914 1627,911 1632,912 1640,920 1647,921 1651,920 1657,912 1665,908 1668,904 1669,896 1671,894 1680,892 1689,880 1699,875 1701,868 1703,846 1707,846 1715,847 1723,851 1728,856 1732,864 1733,876 1734,936 1743,940 1759,939 1764,936 1765,932 1765,876 1768,864 1771,860 1787,851 1791,846 1794,840 1799,822 1803,814 1807,810 1825,800 1828,792 1830,772 1835,764 1854,752ZM1859,767 1855,769 1854,780 1854,792 1855,794 1859,797 1863,794 1864,784 1863,772 1859,767ZM1851,880 1839,884 1835,888 1834,892 1835,900 1839,905 1847,909 1855,910 1863,908 1867,904 1868,900 1868,880 1867,878 1863,878 1851,880ZM1875,863 1870,868 1869,872 1868,876 1871,878 1891,878 1896,876 1899,872 1899,868 1895,864 1887,862 1875,863ZM1923,871 1922,872 1923,871ZM1947,815 1944,820 1944,824 1947,826 1955,827 1963,824 1964,820 1963,816 1959,813 1951,813 1947,815ZM1911,1104 1903,1107 1899,1111 1896,1116 1894,1124 1894,1176 1897,1184 1903,1186 1911,1186 1919,1182 1923,1176 1925,1168 1925,1108 1923,1104 1911,1104ZM1935,1079 1929,1088 1927,1096 1928,1100 1935,1101 1943,1098 1947,1096 1951,1091 1952,1084 1950,1080 1947,1077 1943,1076 1935,1079ZM1963,975 1959,976 1959,980 1963,992 1971,999 1975,1000 1979,999 1982,996 1984,992 1983,984 1975,978 1963,975ZM1703,975 1702,976 1703,988 1707,996 1715,996 1724,992 1726,988 1726,984 1723,980 1715,976 1703,975ZM1787,975 1775,980 1771,984 1770,992 1775,1000 1779,1003 1787,1005 1795,1005 1797,1000 1797,976 1795,975 1787,975ZM1975,1244 1971,1244 1966,1248 1966,1252 1971,1257 1976,1256 1981,1252 1981,1248 1975,1244ZM281,756 289,756 290,760 285,764 279,766 277,764 278,760 281,756ZM839,756 843,754 859,754 863,756 865,760 868,776 865,780 857,784 854,788 855,793 867,802 869,808 868,824 863,829 855,828 843,824 839,816 835,812 824,808 821,804 822,788 825,784 833,780 836,776 839,756ZM1513,768 1519,766 1531,766 1535,767 1539,771 1539,776 1529,784 1526,788 1526,792 1529,796 1539,804 1543,810 1555,818 1561,828 1571,834 1577,844 1585,848 1588,852 1588,856 1584,860 1579,861 1561,856 1553,848 1545,844 1537,832 1511,823 1509,816 1509,780 1510,772 1513,768ZM1578,768 1587,766 1627,766 1631,767 1635,771 1636,776 1633,780 1625,784 1617,792 1611,793 1599,783 1577,776 1575,772 1578,768ZM427,788 435,786 449,788 449,792 447,793 431,797 427,794 427,788ZM1274,800 1280,800 1284,804 1284,808 1279,813 1271,814 1269,812 1269,808 1270,804 1274,800ZM1671,816 1675,815 1680,816 1684,820 1685,828 1683,830 1671,830 1663,830 1658,828 1655,824 1657,820 1671,816ZM525,820 528,820 530,824 527,827 523,824 525,820ZM1685,832 1687,830 1695,830 1699,832 1702,836 1703,844 1699,846 1691,844 1687,840 1685,832ZM334,836 343,835 351,836 343,837 334,836ZM761,848 767,846 779,846 783,847 787,850 789,856 789,868 787,872 783,876 778,876 775,874 769,864 761,860 759,857 758,852 761,848ZM1477,848 1479,846 1488,848 1492,852 1491,857 1487,861 1482,860 1478,856 1477,848ZM1580,880 1583,879 1587,882 1591,890 1603,899 1604,904 1601,908 1595,910 1583,910 1579,909 1575,906 1573,900 1573,888 1575,884 1580,880ZM1626,880 1631,879 1643,882 1663,883 1667,885 1669,892 1667,894 1627,893 1622,888 1622,884 1626,880ZM2061,892 2063,888 2067,888 2067,940 2063,940 2061,936 2061,920 2059,912 2048,908 2046,904 2046,900 2050,896 2061,892ZM2036,928 2039,928 2043,932 2044,936 2039,941 2035,941 2032,936 2033,932 2035,928 2036,928ZM2023,1044 2023,1042 2027,1041 2031,1042 2035,1046 2036,1052 2031,1055 2027,1054 2024,1052 2023,1044ZM662,1084 667,1086 669,1088 669,1092 667,1095 659,1099 650,1100 648,1096 650,1092 655,1087 662,1084ZM597,1104 611,1102 639,1103 643,1104 644,1108 643,1116 639,1125 631,1131 619,1134 599,1133 590,1128 585,1120 587,1112 591,1107 597,1104ZM1647,1108 1655,1106 1659,1108 1664,1112 1675,1126 1679,1129 1687,1133 1699,1134 1739,1134 1751,1137 1759,1142 1773,1160 1789,1172 1793,1180 1791,1188 1779,1203 1775,1212 1766,1248 1764,1272 1762,1280 1755,1289 1747,1292 1735,1294 1733,1296 1735,1308 1739,1317 1759,1334 1773,1352 1788,1364 1791,1368 1793,1376 1788,1384 1779,1389 1735,1390 1733,1392 1733,1408 1702,1408 1703,1397 1707,1391 1731,1389 1732,1384 1730,1372 1724,1364 1719,1361 1707,1358 1706,1356 1703,1352 1699,1332 1695,1327 1671,1326 1668,1328 1667,1340 1664,1348 1659,1354 1645,1364 1640,1372 1637,1384 1637,1408 1573,1408 1572,1380 1568,1368 1559,1361 1543,1358 1541,1356 1541,1332 1541,1328 1543,1326 1667,1326 1668,1324 1666,1308 1659,1299 1651,1295 1627,1293 1619,1291 1614,1288 1610,1280 1611,1272 1615,1267 1623,1263 1647,1261 1655,1259 1663,1253 1667,1244 1669,1232 1667,1230 1655,1228 1646,1224 1630,1204 1617,1192 1612,1184 1614,1176 1630,1160 1635,1152 1637,1144 1638,1120 1642,1112 1647,1108ZM1687,1167 1679,1171 1675,1174 1670,1184 1669,1228 1671,1230 1695,1229 1699,1223 1703,1204 1705,1200 1707,1198 1719,1193 1727,1184 1727,1176 1724,1172 1719,1169 1707,1166 1687,1167ZM1707,1263 1703,1270 1702,1276 1703,1286 1706,1292 1711,1294 1731,1293 1733,1292 1732,1284 1727,1271 1719,1265 1707,1263ZM871,1120 875,1119 880,1120 883,1124 883,1128 879,1132 875,1132 861,1128 858,1124 871,1120ZM693,1136 711,1134 727,1137 731,1139 734,1144 734,1152 728,1160 719,1165 703,1166 691,1163 683,1156 682,1148 686,1140 693,1136ZM1109,1176 1111,1174 1120,1176 1124,1180 1123,1185 1119,1189 1111,1190 1109,1188 1109,1176ZM858,1184 859,1182 863,1181 867,1181 874,1184 878,1188 873,1192 863,1194 858,1192 856,1188 858,1184ZM1446,1200 1451,1199 1463,1201 1471,1207 1474,1212 1477,1224 1476,1240 1474,1248 1471,1253 1467,1256 1459,1257 1455,1256 1448,1248 1445,1236 1446,1200ZM560,1204 567,1203 571,1204 575,1208 580,1220 579,1229 551,1229 550,1224 551,1216 555,1208 560,1204ZM894,1208 903,1206 908,1208 910,1212 907,1217 903,1218 895,1218 892,1216 891,1212 894,1208ZM859,1216 863,1213 871,1213 880,1216 884,1220 879,1227 873,1232 863,1236 855,1236 850,1232 849,1228 850,1224 859,1216ZM970,1224 971,1223 975,1224 979,1228 981,1236 979,1238 971,1237 970,1236 968,1232 968,1228 970,1224ZM1349,1232 1351,1230 1367,1233 1375,1239 1378,1244 1381,1260 1381,1288 1379,1293 1371,1293 1363,1291 1355,1285 1352,1280 1349,1268 1349,1232ZM684,1240 687,1237 691,1236 695,1237 699,1240 702,1244 703,1248 702,1252 699,1255 695,1257 687,1255 684,1252 682,1248 684,1240ZM742,1248 747,1246 755,1246 763,1246 769,1248 772,1252 773,1256 773,1268 771,1274 767,1277 763,1277 759,1274 753,1264 743,1260 740,1256 740,1252 742,1248ZM875,1268 891,1268 896,1272 894,1276 887,1283 886,1288 889,1292 897,1296 900,1300 901,1304 899,1311 891,1321 883,1325 863,1326 851,1323 847,1320 845,1316 851,1310 855,1298 867,1290 870,1272 875,1268ZM1516,1276 1523,1274 1531,1275 1535,1277 1539,1283 1541,1304 1541,1320 1540,1324 1539,1325 1523,1323 1515,1317 1512,1312 1510,1304 1510,1288 1512,1280 1516,1276ZM792,1284 799,1283 803,1288 800,1292 795,1293 791,1288 792,1284ZM825,1284 831,1283 835,1288 832,1292 827,1293 823,1288 825,1284ZM1382,1296 1387,1294 1415,1294 1431,1297 1439,1302 1453,1320 1468,1332 1470,1336 1470,1340 1468,1344 1459,1348 1435,1354 1427,1354 1423,1353 1417,1348 1405,1332 1391,1322 1386,1316 1383,1308 1382,1296ZM560,1332 567,1331 571,1332 575,1336 576,1344 575,1348 571,1352 563,1353 559,1352 555,1348 554,1340 555,1336 560,1332ZM1296,1332 1303,1331 1307,1332 1311,1336 1312,1344 1311,1348 1307,1352 1299,1353 1295,1352 1291,1348 1290,1340 1291,1336 1296,1332ZM1969,1340 1975,1339 1979,1341 1981,1344 1981,1348 1979,1350 1975,1353 1971,1353 1967,1350 1965,1348 1965,1344 1969,1340ZM1527,1360 1539,1358 1541,1360 1541,1408 1509,1408 1509,1384 1512,1372 1518,1364 1527,1360ZM1905,1368 1911,1365 1915,1365 1919,1368 1923,1376 1924,1384 1923,1389 1911,1388 1903,1384 1900,1380 1900,1376 1905,1368ZM2059,1368 2063,1365 2067,1365 2067,1408 2053,1408 2054,1380 2059,1368ZM1926,1392 1927,1391 1935,1390 1971,1391 1979,1395 1983,1399 1985,1404 1985,1408 1925,1408 1926,1392Z"/>
<path fill="#87bedb" fill-rule="evenodd" d="M227,300 293,300 292,312 287,329 275,333 267,334 262,332 258,328 255,321 251,320 247,324 245,332 247,344 253,352 258,364 275,371 275,376 271,381 255,383 239,396 231,398 227,398 227,300ZM641,300 693,300 694,308 697,312 715,315 719,318 721,324 718,328 711,329 635,328 603,330 591,333 575,330 572,328 572,324 575,323 623,322 635,319 639,316 641,312 641,300ZM838,300 856,300 858,320 865,328 875,333 887,335 895,335 899,332 905,320 911,317 927,319 943,317 959,319 971,315 975,315 979,318 978,328 975,331 967,334 959,346 947,348 923,349 917,352 911,360 907,361 891,359 863,359 843,362 755,368 743,387 744,392 755,397 767,401 772,404 769,408 755,411 747,416 743,432 742,436 743,440 755,445 767,447 783,447 800,444 803,443 811,436 835,429 840,424 843,417 847,415 863,415 879,412 883,408 886,400 891,398 911,399 927,399 933,396 939,387 943,386 959,389 967,396 987,400 995,399 998,396 999,392 998,388 985,380 983,376 983,372 987,363 991,361 999,359 1007,362 1019,372 1021,376 1019,388 1019,392 1023,393 1039,392 1048,388 1055,387 1066,388 1073,392 1057,400 1053,404 1046,436 1043,442 1039,445 1035,445 1021,436 1007,432 971,434 967,432 959,419 955,419 947,425 927,433 891,434 879,443 871,446 823,451 803,462 767,468 749,476 731,478 703,473 687,478 679,478 639,475 631,478 622,484 619,488 618,500 619,505 629,512 635,525 654,532 652,536 639,537 633,536 627,531 603,522 595,509 579,499 571,498 567,499 564,500 557,508 551,510 531,508 524,504 526,500 535,493 542,484 555,476 591,476 595,472 596,464 599,459 603,459 639,467 651,466 667,467 687,464 703,465 719,463 724,460 726,452 723,445 719,442 703,440 690,432 679,430 619,428 603,432 599,436 595,455 591,456 579,448 571,446 551,445 523,446 511,445 503,440 498,436 491,434 475,436 463,440 443,441 427,444 411,444 387,440 393,428 395,417 399,411 403,408 431,398 447,394 463,394 471,396 478,400 487,409 515,413 527,417 571,411 591,410 597,408 603,399 619,389 623,388 627,391 630,404 635,406 639,406 651,402 671,403 699,399 719,402 723,400 729,392 730,388 727,376 727,372 733,360 739,360 747,364 751,361 754,356 763,352 799,351 819,347 845,328 846,324 843,322 839,313 838,300ZM981,300 1013,300 1015,308 1035,316 1039,320 1043,328 1047,332 1051,335 1072,340 1074,344 1071,348 1067,350 1055,350 1039,355 1035,353 1023,345 1019,344 1003,351 1000,344 998,320 995,315 982,312 981,300ZM1045,300 1072,300 1071,308 1067,312 1049,312 1045,308 1045,300ZM1141,320 1147,316 1151,316 1165,320 1170,324 1171,332 1167,339 1146,344 1163,350 1167,353 1169,360 1169,372 1168,376 1162,380 1143,384 1131,388 1123,384 1115,376 1115,368 1120,360 1115,357 1099,352 1093,348 1091,344 1091,340 1094,336 1099,334 1127,330 1141,320ZM1209,320 1211,317 1215,316 1253,324 1263,328 1241,340 1231,348 1223,352 1215,353 1207,350 1203,344 1209,320ZM1325,320 1327,319 1332,324 1331,331 1327,333 1322,332 1319,328 1320,324 1325,320ZM1274,340 1275,337 1279,337 1279,342 1275,342 1274,340ZM1595,352 1599,350 1611,350 1616,352 1619,356 1613,360 1596,360 1592,356 1595,352ZM1497,360 1499,357 1503,360 1507,383 1520,388 1522,392 1522,396 1519,400 1515,401 1511,399 1507,396 1505,388 1503,386 1495,384 1492,380 1490,372 1497,360ZM445,372 447,370 451,376 447,380 444,376 445,372ZM688,372 703,370 708,372 709,376 705,380 699,381 688,376 688,372ZM920,372 923,369 927,369 931,372 932,376 931,378 927,380 923,379 920,376 920,372ZM823,384 831,382 843,382 859,387 877,388 880,392 875,394 863,393 855,394 835,402 827,403 819,396 817,392 818,388 823,384ZM1274,388 1277,388 1279,390 1279,393 1275,395 1272,392 1274,388ZM1087,396 1099,392 1127,395 1133,400 1134,408 1132,412 1119,424 1103,428 1087,426 1083,424 1081,412 1082,400 1087,396ZM1356,400 1387,398 1391,400 1394,404 1393,408 1371,412 1365,416 1359,425 1343,429 1339,430 1335,427 1331,417 1327,414 1308,408 1308,404 1311,403 1339,403 1356,400ZM1451,400 1463,398 1473,400 1479,410 1487,417 1488,420 1487,427 1483,430 1479,430 1459,430 1451,428 1447,424 1445,416 1445,408 1447,404 1451,400ZM351,404 363,400 367,401 370,404 370,412 366,424 367,428 371,435 377,440 351,445 347,442 342,420 346,408 351,404ZM1210,420 1215,417 1219,420 1219,425 1215,428 1211,427 1210,420ZM1542,424 1547,421 1551,424 1554,432 1556,440 1556,468 1558,476 1563,479 1579,482 1599,480 1603,484 1607,494 1632,500 1635,505 1639,525 1649,532 1650,536 1647,540 1643,542 1635,542 1625,540 1620,532 1616,516 1595,507 1583,509 1567,507 1551,509 1547,507 1535,482 1526,472 1529,452 1537,432 1542,424ZM1721,432 1729,432 1736,436 1735,440 1731,444 1727,445 1719,445 1711,443 1706,440 1706,436 1707,435 1721,432ZM1656,436 1659,433 1663,436 1659,440 1656,436ZM271,444 287,452 293,460 299,464 315,466 327,473 339,476 348,480 353,484 353,488 339,495 324,500 319,509 313,512 303,521 283,525 267,520 262,504 265,492 267,480 265,452 267,445 271,444ZM955,448 963,446 971,447 974,452 971,456 955,457 952,456 951,452 955,448ZM1801,448 1807,446 1835,446 1857,452 1859,456 1857,460 1849,464 1846,468 1845,484 1843,490 1839,493 1835,493 1831,490 1829,484 1828,468 1825,464 1801,460 1798,456 1798,452 1801,448ZM1002,464 1007,462 1019,462 1024,464 1027,468 1026,472 1023,473 1003,474 991,476 988,472 990,468 1002,464ZM1163,468 1167,467 1167,468 1167,470 1163,470 1163,468ZM1402,468 1404,468 1402,468ZM1608,468 1611,465 1615,465 1620,468 1619,472 1615,475 1611,476 1607,472 1608,468ZM1144,480 1151,479 1155,480 1156,484 1155,488 1151,491 1143,490 1140,488 1140,484 1144,480ZM1653,480 1659,478 1665,480 1671,490 1679,495 1683,500 1683,520 1679,535 1675,536 1671,529 1666,512 1643,488 1644,484 1653,480ZM363,496 367,493 375,493 419,493 427,494 430,496 432,500 431,504 403,511 383,520 379,520 370,516 363,508 362,500 363,496ZM1465,496 1471,494 1499,494 1504,496 1507,500 1505,504 1503,505 1483,510 1471,510 1467,508 1463,504 1463,500 1465,496ZM477,512 483,510 495,511 511,516 511,520 503,522 479,522 475,520 474,516 477,512ZM329,516 335,516 331,518 329,516ZM1706,516 1707,513 1711,513 1715,516 1711,520 1707,520 1706,516ZM454,528 463,527 467,528 468,532 466,536 463,538 455,539 444,536 446,532 454,528ZM531,528 543,526 555,527 562,536 567,540 596,548 598,552 597,576 595,578 571,579 561,588 555,590 543,590 539,588 535,584 534,580 536,568 536,564 532,560 527,558 499,555 492,552 492,548 495,546 515,540 523,531 531,528ZM1353,528 1363,526 1391,526 1407,531 1410,532 1411,535 1411,536 1409,540 1403,544 1386,560 1376,584 1375,587 1371,589 1359,590 1355,587 1354,584 1349,560 1349,536 1350,532 1353,528ZM1371,544 1367,548 1368,552 1375,553 1379,552 1379,548 1375,544 1371,544ZM282,548 283,546 287,545 291,548 291,552 287,564 283,563 282,548ZM1695,552 1703,550 1710,552 1714,564 1713,568 1707,569 1701,556 1699,553 1695,552ZM444,560 447,559 459,563 475,560 479,560 483,562 485,572 483,584 475,590 467,593 459,592 453,588 447,579 442,576 440,568 441,564 444,560ZM1226,560 1231,559 1247,563 1249,564 1251,568 1248,572 1243,574 1227,573 1222,568 1222,564 1226,560ZM1287,564 1291,560 1295,560 1299,564 1299,568 1295,573 1291,573 1287,568 1287,564ZM1145,568 1147,566 1151,564 1156,568 1151,584 1139,588 1133,588 1130,584 1131,580 1139,576 1145,568ZM395,580 419,579 429,580 435,583 433,600 422,616 421,620 423,622 447,622 459,620 467,621 471,624 475,636 479,638 495,643 507,649 515,648 523,640 527,638 546,632 552,620 555,609 559,608 563,611 568,620 578,624 580,628 579,632 569,640 561,652 535,660 529,668 523,672 515,682 511,685 491,683 475,686 463,685 459,683 453,672 443,664 435,644 423,632 421,624 419,622 395,623 391,625 387,632 383,636 379,636 375,632 374,628 380,616 383,613 391,608 394,604 394,596 392,584 395,580ZM597,580 599,578 605,580 606,584 603,589 599,590 597,588 597,580ZM1099,580 1103,578 1103,586 1099,586 1099,580ZM585,592 595,590 597,592 596,600 594,604 591,605 587,605 583,601 582,596 585,592ZM1290,592 1296,592 1299,596 1298,600 1295,601 1288,600 1287,596 1290,592ZM2038,592 2067,590 2067,615 2063,615 2038,608 2031,604 2029,600 2031,596 2038,592ZM306,596 312,596 312,600 306,600 306,596ZM1337,600 1351,601 1363,604 1367,608 1371,620 1375,622 1403,622 1410,624 1415,634 1427,643 1427,649 1415,658 1411,666 1408,668 1403,669 1399,666 1393,656 1383,650 1377,640 1371,638 1359,638 1355,640 1351,644 1349,648 1349,676 1343,696 1339,698 1323,698 1307,702 1267,702 1257,700 1254,696 1254,692 1259,687 1311,685 1315,682 1323,672 1331,667 1332,660 1330,656 1327,654 1304,648 1301,644 1301,632 1302,628 1305,624 1315,619 1321,608 1337,600ZM1099,608 1103,608 1103,617 1099,617 1099,608ZM1641,608 1651,606 1663,608 1667,612 1669,620 1667,622 1659,622 1647,622 1640,620 1638,616 1638,612 1641,608ZM729,612 735,611 738,612 740,616 739,619 735,621 728,620 726,616 729,612ZM1669,624 1671,622 1682,624 1684,628 1683,634 1679,637 1674,636 1670,632 1669,624ZM724,636 735,634 747,638 751,640 753,648 752,680 751,683 743,690 739,698 735,701 731,702 727,702 725,700 729,680 728,672 725,664 723,660 713,652 710,648 711,644 715,640 724,636ZM602,640 607,638 635,638 655,643 660,648 660,660 655,667 651,669 639,670 633,672 627,680 621,684 619,685 603,682 599,677 595,664 596,656 602,640ZM681,644 687,643 692,648 693,660 691,664 687,668 683,667 678,660 678,648 681,644ZM537,688 543,686 555,686 559,689 560,696 555,701 543,702 539,700 535,696 535,692 537,688ZM1658,688 1663,687 1667,690 1669,700 1667,712 1663,716 1659,716 1654,712 1653,704 1654,692 1658,688ZM1968,688 1983,688 1996,692 2005,696 2014,704 2018,712 2018,716 2011,717 1975,713 1960,708 1956,704 1954,700 1955,696 1959,691 1968,688ZM680,700 687,698 699,698 723,702 725,704 725,708 721,724 721,736 723,748 727,752 738,756 747,765 764,772 767,776 765,780 763,781 747,783 743,786 739,794 735,796 731,796 727,792 725,788 725,776 723,770 713,764 707,754 703,752 699,754 695,768 691,775 687,777 679,776 667,763 662,744 667,723 671,716 675,704 680,700ZM985,704 991,702 1019,702 1023,703 1027,707 1028,712 1025,716 1017,720 1011,728 1003,730 987,729 983,726 981,720 982,708 985,704ZM874,708 875,706 879,705 883,708 887,714 895,721 901,732 910,740 916,772 915,776 907,777 903,774 902,772 901,760 899,756 888,748 883,734 873,728 871,725 871,720 874,708ZM2056,712 2067,711 2067,788 2055,786 2047,787 2039,795 2036,792 2035,788 2039,780 2040,772 2038,768 2030,760 2029,756 2031,744 2031,736 2027,730 2023,728 2021,724 2021,720 2023,719 2056,712ZM1082,720 1088,720 1097,732 1107,739 1109,748 1107,750 1087,750 1083,749 1079,746 1077,740 1077,728 1078,724 1082,720ZM1418,736 1423,735 1439,739 1441,740 1443,744 1441,748 1431,754 1427,762 1423,764 1419,764 1415,760 1413,756 1413,744 1414,740 1418,736ZM1109,752 1111,750 1115,750 1135,755 1137,756 1139,760 1137,764 1127,770 1123,778 1119,780 1115,780 1111,776 1109,772 1109,752ZM1870,760 1875,757 1879,764 1882,788 1879,794 1875,795 1872,788 1872,772 1870,760ZM618,784 624,784 627,788 627,792 623,796 615,798 613,796 613,792 614,788 618,784ZM922,788 923,786 927,790 931,799 943,806 951,820 952,824 951,828 947,832 935,836 931,840 927,841 921,840 918,836 917,832 922,788ZM1971,788 1975,786 1982,792 1991,797 1994,804 1995,816 1995,824 1989,844 1981,856 1979,868 1974,872 1963,875 1955,879 1939,893 1923,893 1918,888 1919,884 1927,880 1931,876 1931,872 1928,864 1920,856 1922,852 1939,840 1945,832 1961,828 1967,824 1969,820 1969,816 1966,812 1960,808 1960,804 1967,799 1971,788ZM600,800 603,798 611,798 613,800 615,810 627,820 627,828 623,840 603,846 599,846 597,844 597,808 600,800ZM1399,824 1403,821 1407,821 1411,824 1408,828 1403,829 1399,824ZM227,832 227,830 239,831 244,836 248,852 248,856 244,860 239,862 227,862 227,832ZM266,832 271,832 275,836 275,840 271,845 266,844 262,840 262,836 266,832ZM712,836 715,835 719,836 721,840 721,852 719,858 715,858 714,856 710,840 712,836ZM969,836 995,834 1003,834 1009,836 1012,840 1013,844 1012,856 1009,860 1003,862 991,862 987,860 977,848 968,844 966,840 969,836ZM1858,836 1859,835 1863,838 1867,852 1866,856 1863,859 1859,861 1855,858 1854,856 1855,843 1858,836ZM538,848 547,849 551,852 551,856 547,862 539,865 531,864 524,860 523,856 524,852 531,849 538,848ZM569,848 575,846 595,846 597,848 599,859 607,864 611,868 611,876 607,891 603,893 599,891 595,881 591,878 575,878 571,875 566,856 566,852 569,848ZM1114,848 1119,847 1135,851 1147,861 1163,862 1167,864 1171,868 1173,876 1173,900 1172,904 1169,908 1159,910 1151,910 1148,908 1139,882 1135,879 1119,877 1115,875 1110,856 1110,852 1114,848ZM1428,860 1435,859 1439,861 1455,871 1455,877 1451,888 1439,892 1435,892 1423,880 1417,876 1414,872 1415,867 1419,863 1428,860ZM1321,864 1327,863 1331,865 1332,872 1327,877 1321,876 1318,872 1318,868 1321,864ZM474,880 479,880 483,884 487,890 497,896 500,900 500,904 497,908 487,915 485,924 483,926 463,925 460,920 455,896 451,892 442,888 443,884 463,883 474,880ZM246,884 251,880 255,881 262,892 264,900 262,920 263,925 267,928 287,928 303,931 319,932 324,936 324,948 319,956 295,969 279,987 271,992 267,991 262,984 261,948 258,944 251,940 246,932 239,925 235,923 227,922 227,890 239,889 246,884ZM551,896 559,895 563,899 563,904 559,908 547,910 538,908 535,904 537,900 551,896ZM1001,896 1011,894 1023,895 1028,900 1028,904 1025,908 1017,912 1009,920 1003,921 999,919 997,912 998,900 1001,896ZM2000,904 2003,904 2003,905 2000,904ZM395,912 398,916 395,922 392,920 391,916 395,912ZM347,920 351,920 347,920ZM485,928 487,926 495,927 500,932 500,936 495,939 491,940 487,938 485,936 485,928ZM589,928 591,927 595,929 596,932 595,937 591,938 586,936 586,932 589,928ZM1527,932 1531,928 1535,928 1539,932 1541,940 1540,952 1538,960 1535,964 1531,967 1527,967 1523,964 1519,952 1519,948 1524,940 1527,932ZM1640,932 1647,931 1650,932 1652,936 1649,940 1643,941 1640,940 1638,936 1640,932ZM455,944 467,943 475,946 480,956 493,976 497,988 497,996 494,1004 487,1010 475,1013 467,1012 459,1008 456,1004 453,996 450,976 447,968 435,956 432,952 435,948 455,944ZM555,948 564,948 565,952 559,956 555,954 553,952 555,948ZM1074,948 1081,948 1081,952 1079,958 1075,959 1073,956 1073,952 1074,948ZM690,980 695,979 699,982 701,984 701,988 699,991 691,993 687,991 685,988 685,984 690,980ZM1370,992 1375,991 1380,996 1379,1001 1375,1005 1371,1005 1366,1000 1366,996 1370,992ZM1131,1008 1139,1006 1167,1007 1171,1010 1177,1020 1187,1026 1189,1036 1189,1072 1188,1080 1185,1084 1179,1086 1151,1086 1147,1085 1143,1080 1141,1072 1141,1032 1139,1026 1127,1016 1127,1012 1131,1008ZM1273,1008 1279,1006 1287,1006 1297,1008 1300,1012 1302,1032 1305,1036 1315,1044 1317,1052 1316,1064 1313,1068 1303,1076 1301,1084 1303,1086 1331,1086 1333,1084 1333,1064 1335,1058 1339,1055 1343,1054 1363,1054 1365,1056 1366,1080 1370,1084 1376,1084 1379,1082 1383,1074 1387,1071 1391,1072 1394,1080 1398,1084 1403,1086 1415,1086 1417,1088 1416,1096 1411,1114 1407,1117 1384,1124 1375,1132 1371,1134 1359,1134 1353,1132 1350,1128 1349,1096 1347,1090 1343,1087 1335,1086 1333,1088 1331,1097 1327,1101 1323,1102 1311,1102 1305,1100 1302,1096 1301,1088 1299,1086 1290,1088 1283,1098 1279,1100 1275,1098 1271,1088 1260,1080 1255,1070 1251,1066 1239,1062 1237,1056 1239,1044 1243,1040 1251,1038 1267,1038 1269,1036 1269,1016 1270,1012 1273,1008ZM1271,1038 1269,1040 1270,1048 1275,1052 1279,1052 1283,1048 1283,1043 1279,1039 1271,1038ZM1692,1008 1695,1008 1703,1015 1718,1020 1717,1024 1711,1026 1699,1028 1691,1028 1683,1024 1680,1020 1681,1016 1687,1010 1692,1008ZM1935,1016 1939,1014 1943,1014 1947,1016 1951,1024 1950,1028 1947,1032 1943,1034 1935,1036 1929,1036 1927,1033 1928,1028 1931,1020 1935,1016ZM1370,1040 1375,1039 1394,1044 1397,1052 1395,1054 1367,1054 1365,1052 1365,1048 1366,1044 1370,1040ZM1907,1044 1919,1040 1923,1044 1919,1056 1915,1061 1907,1064 1903,1063 1900,1060 1899,1056 1902,1048 1907,1044ZM1397,1056 1399,1054 1407,1055 1412,1060 1411,1064 1407,1065 1399,1064 1397,1056ZM1209,1072 1215,1070 1227,1070 1231,1075 1231,1080 1227,1085 1219,1086 1211,1085 1206,1080 1206,1076 1209,1072ZM1419,1072 1423,1071 1427,1076 1427,1080 1423,1084 1419,1085 1418,1084 1417,1080 1419,1072ZM1450,1092 1451,1090 1455,1089 1459,1092 1459,1096 1456,1100 1454,1100 1451,1099 1450,1092ZM1114,1096 1120,1096 1123,1098 1127,1106 1136,1112 1137,1116 1139,1148 1138,1152 1135,1154 1128,1152 1119,1143 1103,1146 1095,1145 1087,1142 1082,1136 1078,1120 1078,1116 1081,1112 1091,1106 1107,1101 1114,1096ZM471,1112 475,1112 475,1116 471,1117 471,1112ZM1256,1128 1259,1124 1263,1124 1267,1128 1263,1132 1259,1132 1256,1128ZM984,1140 991,1139 1007,1141 1025,1148 1028,1152 1026,1164 1027,1172 1031,1176 1041,1180 1040,1184 1023,1190 1016,1204 1011,1208 1007,1209 999,1207 987,1200 986,1196 987,1192 993,1184 995,1180 992,1176 987,1174 971,1174 967,1171 965,1168 965,1164 967,1160 975,1155 979,1144 984,1140ZM860,1188 863,1186 868,1188 863,1191 860,1188ZM1940,1200 1955,1198 1971,1200 1979,1204 1982,1208 1982,1212 1980,1216 1972,1220 1947,1226 1939,1227 1926,1224 1914,1220 1910,1216 1910,1212 1915,1208 1940,1200ZM898,1208 904,1208 908,1212 903,1216 899,1216 894,1212 898,1208ZM1741,1212 1747,1208 1751,1212 1750,1216 1747,1221 1742,1220 1740,1216 1741,1212ZM861,1216 867,1214 871,1214 876,1216 880,1220 868,1232 863,1234 855,1234 852,1232 851,1228 852,1224 861,1216ZM1069,1224 1075,1222 1135,1223 1139,1228 1139,1236 1129,1240 1126,1244 1125,1248 1127,1255 1133,1260 1119,1262 1087,1262 1079,1261 1067,1257 1063,1254 1061,1248 1066,1228 1069,1224ZM1099,1239 1094,1244 1094,1252 1099,1257 1103,1257 1108,1252 1108,1244 1103,1239 1099,1239Z"/>
<path fill="#3079b6" fill-rule="evenodd" d="M227,300 245,300 243,312 239,316 227,318 227,300ZM649,300 683,300 683,312 687,319 695,322 712,324 683,325 659,321 651,316 649,312 649,300ZM840,300 854,300 853,312 851,318 847,319 843,317 841,312 840,300ZM987,300 997,300 996,308 988,308 987,306 987,300ZM1001,316 1003,313 1007,313 1027,317 1031,320 1036,328 1053,340 1055,344 1039,351 1035,350 1023,341 1015,341 1007,344 1003,340 1001,332 1001,316ZM270,320 272,320 274,324 271,327 266,324 270,320ZM909,320 927,321 943,319 959,321 971,318 975,319 977,324 975,329 967,332 959,342 956,344 943,347 923,348 915,351 907,357 891,355 843,356 815,363 767,365 759,364 756,360 758,356 767,353 795,353 827,350 830,348 834,340 839,335 843,333 855,330 863,330 875,335 895,336 901,332 905,324 909,320ZM1145,320 1151,318 1167,323 1169,328 1168,332 1163,336 1159,336 1147,336 1139,333 1137,328 1139,324 1145,320ZM1211,320 1215,319 1235,322 1241,324 1247,328 1235,337 1215,345 1211,344 1208,336 1209,324 1211,320ZM1109,336 1119,335 1126,336 1130,340 1129,348 1123,351 1119,352 1111,351 1104,348 1099,344 1100,340 1109,336ZM227,352 227,350 239,352 246,360 250,368 250,376 247,380 239,387 227,388 227,352ZM1142,356 1147,354 1155,356 1159,361 1162,368 1162,372 1160,376 1153,380 1135,383 1127,382 1121,376 1121,372 1123,368 1127,363 1142,356ZM993,364 1003,364 1007,366 1015,372 1017,376 1016,380 1007,395 998,384 989,380 985,376 985,372 987,367 993,364ZM922,372 927,371 928,372 929,376 927,377 923,376 922,372ZM830,384 835,384 847,388 847,392 835,398 827,399 823,396 821,392 822,388 830,384ZM940,392 943,390 947,391 959,398 975,399 987,403 1003,407 1007,407 1031,397 1043,396 1047,400 1046,412 1039,428 1035,431 1023,432 1007,430 987,430 979,429 971,426 967,422 963,415 959,411 919,429 888,432 877,440 867,444 823,447 815,446 811,444 812,440 817,436 835,431 839,429 847,419 879,415 883,412 887,404 891,400 927,400 935,397 940,392ZM733,400 739,400 756,404 751,408 747,409 743,414 737,440 741,444 767,449 783,449 799,447 810,448 810,452 808,456 802,460 763,465 747,472 726,472 721,468 727,464 730,456 729,444 723,438 719,436 703,435 687,429 671,427 635,427 619,425 599,432 595,446 591,451 579,446 563,443 519,444 509,440 499,433 491,431 463,435 443,436 428,440 414,440 403,436 399,432 397,424 400,416 407,411 427,404 443,402 463,402 486,412 511,415 515,416 527,424 535,424 543,424 567,415 591,413 603,409 611,409 623,413 651,409 671,408 683,405 699,403 715,408 719,408 733,400ZM1091,400 1099,396 1119,398 1127,402 1129,404 1129,408 1126,412 1119,418 1107,422 1099,423 1092,420 1090,416 1088,408 1089,404 1091,400ZM357,404 363,402 368,404 369,408 368,412 363,418 359,418 353,412 353,408 357,404ZM1352,408 1355,406 1359,407 1361,408 1359,410 1355,412 1352,408ZM1546,428 1547,427 1551,430 1553,436 1554,468 1555,476 1559,480 1579,485 1595,482 1599,482 1601,484 1603,493 1606,496 1625,500 1631,504 1635,516 1635,528 1631,531 1627,530 1623,527 1620,516 1616,512 1606,508 1597,500 1583,496 1567,499 1559,499 1552,496 1548,492 1538,476 1536,468 1536,452 1539,436 1543,430 1546,428ZM1721,436 1726,436 1723,438 1721,436ZM270,456 271,453 275,455 276,460 275,461 271,459 270,456ZM277,464 279,462 287,465 290,468 293,476 291,478 282,476 278,472 277,464ZM599,464 603,462 623,465 632,468 635,472 617,484 607,509 603,509 595,501 580,496 551,494 549,492 550,488 553,484 561,480 591,478 595,476 599,464ZM674,468 687,466 698,468 697,472 683,476 668,472 674,468ZM1611,468 1615,467 1616,468 1616,472 1611,473 1611,468ZM293,480 295,478 335,478 340,480 344,484 344,488 339,492 331,494 303,494 299,493 295,489 293,480ZM1649,484 1659,480 1663,481 1666,484 1669,492 1679,497 1681,500 1682,516 1679,527 1675,528 1672,524 1667,509 1648,488 1649,484ZM374,496 383,495 415,495 421,496 427,500 424,504 419,506 379,514 371,508 369,504 369,500 374,496ZM542,496 547,495 548,496 548,500 543,503 539,502 538,500 542,496ZM617,516 621,516 620,520 619,520 617,516ZM534,536 539,533 543,532 591,551 593,552 594,556 592,568 587,570 571,571 559,573 553,572 550,568 545,560 543,549 540,544 533,540 534,536ZM1384,536 1387,533 1391,533 1394,536 1391,539 1387,539 1384,536ZM522,544 531,542 533,544 532,548 527,552 518,552 511,548 522,544ZM1369,564 1371,563 1375,565 1375,569 1371,572 1367,568 1369,564ZM471,568 475,567 477,568 475,573 471,573 470,572 471,568ZM459,576 467,574 469,576 468,580 465,584 461,584 458,580 459,576ZM398,584 411,582 421,584 426,592 426,600 423,604 415,611 407,610 404,608 400,600 398,584ZM1339,604 1347,605 1355,608 1360,612 1361,616 1359,621 1350,628 1343,636 1339,637 1335,635 1329,616 1332,608 1335,605 1339,604ZM439,628 459,625 464,628 464,632 463,635 459,638 447,638 443,636 439,632 439,628ZM538,644 545,644 544,648 537,648 538,644ZM729,644 737,644 739,648 735,652 731,652 728,648 729,644ZM457,656 463,654 491,654 511,659 514,660 515,664 511,668 507,670 463,669 456,664 455,660 457,656ZM603,656 607,655 612,660 612,664 607,669 603,669 601,664 603,656ZM683,708 687,706 699,706 705,708 707,712 703,717 687,718 683,715 682,712 683,708ZM2056,732 2067,731 2067,774 2063,774 2059,777 2055,778 2050,776 2049,772 2051,768 2059,764 2061,756 2059,752 2047,747 2044,740 2047,735 2056,732ZM682,736 688,736 692,740 692,744 688,760 687,762 683,763 679,760 677,752 678,740 682,736ZM892,740 895,738 897,740 896,744 894,744 892,740ZM1983,804 1987,804 1989,808 1990,820 1982,844 1975,850 1964,856 1943,875 1939,875 1928,856 1929,852 1935,846 1943,842 1947,836 1951,833 1963,830 1976,824 1980,820 1981,808 1983,804ZM935,820 939,816 943,820 941,824 939,825 937,824 935,820ZM227,848 227,846 235,847 239,852 236,856 227,856 227,848ZM1434,868 1439,868 1443,872 1440,876 1435,876 1432,872 1434,868ZM245,892 251,890 255,890 259,895 261,900 259,929 255,931 251,930 244,924 235,911 227,910 227,898 235,897 245,892ZM262,936 267,934 279,933 287,933 291,936 293,940 292,944 289,952 283,958 279,958 275,948 262,936ZM463,968 467,966 475,969 485,980 487,988 487,992 483,999 479,1002 472,1004 467,1003 463,1001 460,996 458,988 458,980 460,972 463,968ZM1292,1056 1296,1056 1299,1060 1299,1064 1295,1068 1291,1068 1287,1064 1287,1060 1292,1056ZM1398,1096 1403,1093 1407,1096 1403,1101 1399,1102 1397,1100 1398,1096ZM1369,1104 1375,1102 1383,1102 1395,1102 1397,1104 1396,1108 1393,1112 1375,1117 1370,1116 1366,1112 1366,1108 1369,1104ZM1091,1112 1095,1109 1103,1108 1107,1109 1113,1112 1114,1116 1114,1124 1111,1131 1107,1136 1099,1137 1095,1136 1092,1132 1088,1120 1089,1116 1091,1112ZM993,1144 1003,1143 1011,1144 1016,1148 1018,1152 1017,1156 1014,1160 1007,1163 999,1163 992,1160 987,1156 986,1152 987,1148 993,1144ZM998,1188 1003,1185 1007,1185 1012,1188 1015,1196 1014,1200 1011,1204 1003,1206 999,1204 994,1200 993,1196 998,1188ZM898,1212 904,1212 898,1212ZM865,1216 872,1216 876,1220 867,1230 863,1232 855,1231 853,1228 855,1224 865,1216Z"/>
<path fill="#053061" fill-rule="evenodd" d="M657,300 678,300 677,312 676,316 671,318 662,316 658,312 657,300ZM842,300 851,300 851,308 850,312 847,315 843,312 842,300ZM1003,320 1007,318 1024,320 1028,324 1032,332 1039,335 1046,340 1046,344 1039,348 1035,347 1031,344 1025,336 1019,335 1007,337 1003,332 1002,324 1003,320ZM907,324 911,322 927,323 943,321 959,323 971,321 975,324 973,328 967,330 959,337 947,344 923,346 907,353 891,351 843,350 839,348 837,344 838,340 843,336 855,334 863,334 875,337 895,338 899,337 903,333 907,324ZM1144,324 1147,322 1155,322 1165,324 1167,328 1163,333 1147,332 1142,328 1144,324ZM1211,324 1215,321 1219,321 1234,324 1238,328 1235,332 1231,334 1215,337 1211,333 1211,324ZM1109,340 1115,338 1119,338 1124,340 1124,344 1120,348 1115,348 1108,344 1109,340ZM763,356 811,354 821,356 818,360 815,361 767,363 761,360 763,356ZM227,364 227,361 235,362 239,363 243,367 245,372 245,376 242,380 235,383 227,383 227,364ZM1140,364 1147,362 1152,364 1156,368 1157,372 1155,376 1135,380 1131,380 1127,377 1126,372 1128,368 1140,364ZM990,368 999,367 1007,369 1011,372 1012,376 1011,380 1007,384 1003,384 991,378 988,376 987,372 990,368ZM826,388 831,387 835,387 837,388 838,392 831,396 827,395 824,392 826,388ZM942,396 947,397 950,400 952,404 951,408 943,414 923,420 915,426 887,429 880,432 870,440 863,442 831,444 823,442 820,440 825,436 839,432 854,420 875,418 883,415 891,403 895,402 927,402 942,396ZM1033,400 1039,400 1043,404 1043,410 1039,416 1032,424 1027,428 1023,429 1007,427 991,428 983,426 967,415 964,408 964,404 967,402 971,401 979,403 991,410 1007,413 1023,408 1027,404 1033,400ZM1098,400 1107,399 1119,401 1124,404 1124,408 1121,412 1115,415 1103,417 1099,417 1095,413 1093,408 1094,404 1098,400ZM358,408 363,404 367,408 363,413 359,411 358,408ZM420,412 431,410 459,410 487,415 507,417 515,420 519,426 522,428 527,429 543,429 551,427 559,424 567,418 575,416 591,416 607,414 612,416 615,420 613,424 599,429 591,446 563,442 523,442 517,440 506,432 495,428 443,431 427,434 415,434 409,432 404,428 402,424 403,420 407,416 420,412ZM676,412 691,410 703,410 715,413 731,410 735,411 738,416 738,424 735,431 731,433 719,431 703,431 679,426 635,425 632,424 628,420 632,416 651,413 676,412ZM1547,432 1551,435 1552,440 1551,481 1547,480 1543,476 1540,468 1542,440 1543,436 1547,432ZM738,452 743,449 747,448 767,451 799,450 804,452 803,456 799,458 763,462 747,466 742,464 739,461 737,456 738,452ZM600,468 603,464 607,465 625,468 628,472 615,481 607,496 603,498 599,497 571,492 563,488 564,484 567,483 591,481 595,479 600,468ZM682,468 689,468 690,472 683,473 679,472 682,468ZM323,484 327,482 335,481 339,484 339,488 335,491 327,490 323,488 323,484ZM1554,484 1567,483 1574,488 1571,493 1563,494 1558,492 1554,488 1554,484ZM1593,484 1596,484 1599,488 1599,492 1595,494 1590,492 1588,488 1593,484ZM1655,484 1659,483 1663,484 1667,496 1675,498 1679,501 1680,508 1679,521 1675,522 1666,500 1653,488 1655,484ZM375,500 379,498 387,497 411,497 420,500 417,504 383,510 379,510 375,506 374,504 375,500ZM1608,500 1617,500 1627,507 1631,511 1632,516 1631,524 1626,524 1624,520 1622,512 1619,509 1611,507 1607,504 1608,500ZM551,544 555,542 559,542 579,548 584,552 584,556 580,560 575,562 563,563 555,561 551,557 549,552 551,544ZM408,588 415,587 420,592 421,600 415,606 411,606 408,604 405,600 405,592 408,588ZM1337,608 1343,607 1351,612 1353,616 1351,620 1343,624 1339,625 1335,623 1333,616 1333,612 1337,608ZM1964,832 1971,830 1975,830 1978,832 1980,836 1980,840 1977,844 1955,851 1949,860 1943,865 1939,864 1935,861 1933,856 1935,850 1947,844 1951,836 1964,832ZM247,896 251,894 255,895 258,900 257,916 255,924 251,925 249,924 245,920 244,916 241,904 243,900 247,896ZM467,984 471,982 475,984 476,988 475,992 471,993 469,992 467,988 467,984ZM1099,1112 1104,1112 1109,1116 1108,1124 1103,1129 1099,1129 1095,1125 1093,1120 1094,1116 1099,1112ZM996,1148 1003,1146 1007,1146 1011,1148 1012,1152 1010,1156 1003,1158 998,1156 995,1152 996,1148ZM1001,1192 1003,1191 1007,1191 1009,1192 1011,1196 1010,1200 1007,1202 1003,1203 999,1200 998,1196 1001,1192ZM862,1220 867,1218 872,1220 866,1228 859,1230 856,1228 858,1224 862,1220Z"/>
<path fill="#f09b7a" fill-rule="evenodd" d="M313,300 389,300 388,312 385,316 375,324 370,336 371,344 375,348 379,349 388,348 399,331 403,320 407,316 415,314 431,315 463,321 495,323 498,324 501,328 501,340 498,344 487,348 483,352 479,360 467,365 458,364 447,352 443,351 439,352 435,356 433,360 431,377 425,392 421,396 415,399 395,403 392,408 389,424 387,428 383,430 379,431 375,429 372,424 374,404 373,400 367,397 346,400 332,404 327,406 315,414 307,417 295,417 283,412 279,408 277,404 277,396 278,392 286,380 290,368 299,356 312,344 313,340 310,324 312,312 313,300ZM347,358 331,369 330,372 331,377 335,378 351,378 361,376 363,374 364,372 363,370 355,361 351,358 347,358ZM725,300 836,300 836,324 834,328 815,342 803,347 795,349 763,349 747,353 731,353 725,356 719,364 715,365 699,363 667,365 663,362 659,356 655,352 651,352 641,364 633,368 627,374 624,376 603,382 599,385 591,397 587,398 563,398 555,396 549,388 543,368 539,368 535,372 531,378 527,381 523,381 519,378 516,372 514,356 517,340 518,324 523,319 539,318 543,319 547,322 549,328 549,356 551,360 555,361 560,360 571,351 607,349 619,340 631,337 639,336 655,339 679,334 719,333 726,328 727,324 725,300ZM866,300 970,300 970,304 967,312 963,315 959,316 943,312 939,312 927,316 919,315 911,312 907,313 903,317 898,328 895,331 891,332 875,328 871,324 866,308 866,300ZM1082,300 1313,300 1313,304 1312,312 1307,316 1299,319 1279,321 1227,316 1218,312 1215,308 1211,309 1205,320 1202,332 1199,336 1183,340 1179,339 1177,336 1174,324 1171,320 1154,312 1151,308 1147,308 1145,312 1135,319 1115,326 1106,324 1087,315 1083,311 1082,300ZM1473,300 1797,300 1795,312 1789,320 1781,324 1759,330 1747,335 1739,341 1725,360 1715,365 1707,366 1695,365 1691,363 1689,356 1686,340 1689,336 1698,332 1700,328 1699,321 1695,318 1679,318 1659,314 1615,314 1563,322 1547,322 1531,319 1526,324 1526,328 1531,333 1551,335 1555,339 1555,344 1545,352 1543,356 1545,360 1555,372 1559,378 1571,385 1579,393 1583,393 1587,391 1589,388 1590,376 1595,372 1635,370 1643,370 1647,372 1649,380 1648,392 1638,404 1635,424 1624,436 1625,440 1631,445 1647,447 1659,456 1663,456 1671,447 1686,436 1691,434 1695,434 1699,440 1705,452 1705,456 1702,468 1703,475 1707,478 1727,483 1729,484 1731,488 1729,492 1718,500 1707,505 1702,512 1702,520 1703,523 1707,525 1723,526 1729,528 1735,536 1747,547 1748,552 1745,556 1739,558 1727,558 1723,556 1715,545 1694,540 1688,536 1687,532 1685,496 1683,492 1675,487 1667,477 1663,475 1659,474 1641,480 1638,484 1636,492 1631,494 1613,492 1608,488 1607,484 1610,480 1619,477 1624,472 1625,468 1624,464 1619,461 1611,462 1607,464 1603,473 1599,476 1579,478 1563,475 1560,472 1559,468 1558,436 1551,405 1547,398 1535,394 1525,384 1513,376 1510,344 1507,338 1503,335 1499,334 1471,334 1465,332 1463,329 1463,324 1471,316 1473,312 1473,300ZM1611,383 1606,388 1606,392 1610,396 1615,397 1620,392 1620,388 1615,383 1611,383ZM985,320 991,319 995,324 995,335 993,344 987,353 983,361 980,376 982,384 990,388 991,392 987,394 971,391 959,381 943,379 939,377 936,372 931,367 919,364 917,360 918,356 923,352 935,351 959,352 963,349 967,338 980,332 985,320ZM1060,324 1064,324 1060,324ZM2037,336 2047,334 2067,334 2067,366 2043,365 2035,363 2030,360 2027,356 2026,348 2030,340 2037,336ZM1014,352 1019,350 1023,350 1027,352 1035,361 1055,361 1067,365 1091,368 1101,372 1101,376 1095,378 1035,384 1029,380 1027,372 1023,368 1015,364 1012,360 1011,356 1014,352ZM1293,352 1299,352 1313,356 1316,360 1317,364 1315,366 1291,365 1287,360 1288,356 1293,352ZM1366,352 1371,351 1376,352 1383,362 1387,365 1411,366 1423,364 1431,356 1435,354 1455,351 1460,356 1460,372 1458,376 1431,388 1423,393 1417,392 1407,383 1395,379 1387,378 1371,379 1367,380 1359,390 1355,391 1339,392 1334,388 1333,384 1335,382 1343,381 1347,378 1349,372 1350,360 1351,358 1355,355 1366,352ZM793,368 822,368 836,372 834,376 827,378 808,388 806,392 807,396 816,404 821,408 835,414 837,420 836,424 830,428 808,432 795,440 784,444 767,444 759,443 754,440 752,436 751,428 753,420 759,415 783,409 786,408 787,404 783,399 766,392 763,390 762,384 763,376 772,372 793,368ZM852,368 863,365 911,366 915,368 916,376 919,380 931,386 932,388 932,392 927,396 919,397 905,396 891,393 883,385 879,383 859,382 854,380 849,376 849,372 852,368ZM1244,368 1247,368 1251,371 1252,376 1247,392 1243,393 1240,392 1237,388 1237,380 1239,372 1244,368ZM1317,368 1319,366 1323,366 1330,368 1332,372 1333,380 1331,382 1321,380 1318,376 1317,368ZM1209,372 1216,372 1217,376 1209,376 1209,372ZM664,380 671,380 687,385 692,388 692,392 687,394 675,396 667,395 663,394 660,392 659,388 660,384 664,380ZM1705,384 1707,381 1719,382 1727,386 1734,392 1738,400 1740,408 1740,416 1737,424 1722,428 1707,429 1702,428 1698,408 1703,388 1705,384ZM1146,388 1155,388 1167,392 1183,392 1191,394 1199,400 1200,408 1198,412 1191,418 1167,426 1159,424 1147,417 1144,412 1142,392 1146,388ZM506,400 512,400 513,404 506,404 506,400ZM854,400 859,398 867,398 875,401 879,404 877,408 875,409 867,412 859,412 850,408 849,404 854,400ZM297,432 303,430 315,430 319,432 323,436 323,440 319,445 303,445 296,440 295,436 297,432ZM628,432 675,432 688,436 699,446 715,452 714,456 707,458 671,462 655,460 639,462 619,460 610,456 607,452 603,444 603,440 610,436 628,432ZM1402,432 1407,433 1408,436 1407,442 1403,443 1399,440 1399,436 1402,432ZM227,436 227,434 243,435 254,444 257,448 259,472 255,487 251,490 239,493 227,494 227,436ZM1107,436 1120,436 1124,440 1125,452 1123,458 1120,460 1115,460 1105,448 1099,444 1096,440 1099,438 1107,436ZM1306,436 1307,434 1311,436 1311,438 1307,438 1306,436ZM472,444 491,443 503,450 511,451 539,448 563,448 575,452 579,456 583,466 587,468 575,470 559,466 551,467 539,475 527,491 511,499 491,497 475,491 463,494 458,500 453,516 424,536 426,540 435,550 433,568 427,573 395,575 386,580 384,584 386,596 386,600 375,609 368,620 343,627 339,634 335,637 315,640 307,650 303,653 291,654 267,653 247,659 227,661 227,526 247,526 255,528 261,536 265,552 275,574 283,579 291,578 297,572 299,566 303,560 307,542 311,537 335,531 387,530 395,527 402,516 407,513 435,508 439,504 439,496 431,480 427,480 419,485 411,486 383,486 377,484 372,476 370,468 371,460 375,454 383,451 427,452 443,448 463,447 472,444ZM295,587 292,592 292,600 295,607 299,610 315,611 319,611 324,608 326,604 326,596 323,587 319,585 311,585 299,585 295,587ZM451,464 440,468 439,472 459,481 463,481 467,477 468,472 467,468 463,464 459,463 451,464ZM1258,448 1263,447 1268,452 1269,464 1267,472 1257,480 1250,488 1227,495 1219,504 1207,508 1203,512 1199,522 1195,523 1191,520 1189,516 1189,508 1191,498 1201,492 1207,482 1211,479 1227,478 1233,476 1239,466 1249,460 1258,448ZM881,452 891,449 895,450 896,452 895,456 891,458 875,458 867,464 866,468 866,476 870,488 873,492 879,494 895,493 900,488 906,468 923,463 927,466 929,472 927,477 919,483 919,489 923,493 927,493 931,490 935,483 939,482 946,484 949,488 949,496 948,500 945,504 935,506 863,506 843,514 831,521 811,528 799,540 795,542 767,542 751,539 743,539 729,544 723,554 719,557 714,556 711,554 707,546 703,543 698,544 695,546 691,554 687,556 683,556 679,552 677,544 677,524 679,514 683,511 699,506 715,509 717,508 720,504 720,500 719,496 699,502 683,498 676,492 675,488 679,484 703,478 710,480 727,489 731,490 747,484 775,480 795,470 819,466 831,462 839,456 843,455 875,454 881,452ZM1145,452 1150,452 1151,454 1151,457 1147,460 1143,456 1145,452ZM1371,456 1371,454 1375,454 1375,456 1371,456ZM967,472 971,468 974,472 971,477 967,474 967,472ZM633,484 639,482 643,482 652,484 660,488 661,496 659,506 655,508 651,508 643,500 635,496 631,492 630,488 633,484ZM1384,484 1391,482 1406,484 1409,488 1391,493 1387,492 1383,488 1384,484ZM1103,496 1120,500 1131,508 1135,509 1143,503 1163,496 1167,496 1171,498 1173,508 1171,520 1159,530 1153,548 1149,552 1127,560 1115,561 1106,556 1099,545 1094,548 1087,570 1083,573 1079,574 1055,574 1039,571 1019,569 1015,568 1011,562 1007,559 1003,559 998,564 997,592 998,596 1001,600 1007,601 1019,595 1055,591 1059,595 1060,600 1055,620 1051,621 1035,620 1019,623 1013,628 1011,634 1007,637 987,634 971,637 967,634 963,624 955,620 951,608 947,604 939,603 927,605 923,604 919,600 917,592 918,580 922,564 927,559 959,558 963,555 967,545 971,542 1019,542 1023,540 1027,536 1033,528 1047,523 1055,523 1083,529 1087,529 1092,524 1098,500 1099,498 1103,496ZM955,575 950,580 950,584 953,588 959,589 963,587 964,580 962,576 959,575 955,575ZM1641,500 1643,499 1647,499 1652,508 1663,516 1664,524 1663,534 1659,533 1656,528 1643,520 1641,508 1641,500ZM570,516 575,513 583,518 591,520 595,523 600,532 600,536 598,540 595,542 587,542 571,536 568,532 567,528 570,516ZM473,544 476,544 478,548 475,552 463,555 459,555 453,552 454,548 455,547 473,544ZM1481,544 1487,542 1499,542 1519,547 1524,552 1524,564 1521,568 1515,569 1504,560 1499,559 1495,562 1487,572 1483,574 1451,573 1446,568 1446,564 1449,560 1455,558 1471,557 1475,554 1481,544ZM644,552 651,548 655,548 660,552 658,568 660,580 663,586 671,592 675,596 677,600 677,616 674,620 671,621 655,622 649,620 645,616 641,608 631,600 627,594 621,588 611,568 611,564 613,560 619,556 639,554 644,552ZM1195,560 1199,562 1200,564 1199,570 1195,571 1191,568 1191,564 1195,560ZM505,568 507,566 513,568 511,571 507,571 505,568ZM1687,568 1691,564 1695,565 1696,568 1695,572 1691,573 1687,568ZM810,592 815,591 820,596 820,600 815,605 811,605 806,600 806,596 810,592ZM1195,592 1199,591 1218,596 1225,604 1235,612 1236,616 1227,620 1195,625 1190,628 1189,644 1187,648 1175,660 1174,664 1177,668 1187,676 1187,680 1183,685 1155,686 1145,684 1139,674 1127,666 1119,656 1097,652 1094,648 1093,644 1093,628 1079,625 1074,620 1075,608 1079,604 1083,603 1087,604 1091,606 1093,612 1094,624 1095,626 1099,626 1103,625 1107,622 1110,608 1115,604 1123,604 1135,609 1151,606 1179,606 1183,604 1195,592ZM1402,596 1405,596 1404,600 1402,600 1402,596ZM795,624 803,622 815,624 819,636 823,640 834,644 835,648 831,653 815,651 807,652 803,656 802,660 804,676 803,681 787,695 779,697 775,696 773,692 770,680 770,672 775,658 785,652 788,648 795,624ZM889,640 895,638 907,638 923,638 929,640 931,644 931,648 921,656 918,660 918,664 921,668 931,676 937,684 943,688 946,692 945,696 927,701 919,702 911,702 907,700 903,696 899,690 891,683 886,664 885,648 886,644 889,640ZM2035,644 2039,646 2040,648 2039,660 2035,668 2031,668 2027,664 2027,660 2031,648 2035,644ZM394,652 399,651 407,652 415,656 419,660 424,676 424,684 420,696 415,701 395,703 386,712 367,718 363,720 355,728 343,732 339,736 338,744 339,748 343,752 355,756 363,765 379,766 383,765 390,760 395,753 409,740 415,740 419,748 423,752 435,756 439,762 449,768 451,772 450,776 447,777 427,779 423,780 420,784 418,792 419,800 423,808 427,809 431,809 443,802 463,797 467,794 471,786 475,783 499,781 514,776 517,772 518,760 520,756 535,751 555,750 560,752 561,756 561,768 559,779 550,788 543,810 539,813 527,811 523,812 517,816 514,824 515,840 511,855 505,860 495,865 479,862 471,863 463,870 459,871 447,863 439,862 437,864 436,868 431,873 407,875 395,879 386,888 343,907 320,920 287,920 271,922 267,920 267,914 277,900 277,888 279,882 291,872 293,868 294,848 297,836 299,832 307,826 311,818 320,812 322,808 311,804 303,803 295,804 287,813 279,812 268,808 268,804 279,796 283,785 293,768 306,760 308,756 309,752 307,750 287,746 263,750 261,748 262,740 265,736 271,734 307,734 309,732 308,724 305,720 299,718 283,717 279,712 279,708 291,698 299,688 305,684 313,672 319,670 347,670 351,668 359,658 363,655 379,657 394,652ZM363,819 351,826 335,826 328,828 324,832 323,836 326,840 335,842 359,842 367,840 371,832 375,828 385,824 385,820 375,818 363,819ZM427,850 426,856 427,859 431,861 435,862 437,860 435,852 431,849 427,850ZM311,734 309,736 309,748 311,750 320,748 324,744 323,739 319,735 311,734ZM251,672 255,675 256,680 251,685 247,686 245,684 246,676 251,672ZM1018,672 1024,672 1027,676 1025,680 1017,680 1015,676 1018,672ZM1564,672 1571,670 1587,670 1623,670 1630,672 1632,676 1633,692 1637,708 1635,716 1631,720 1623,724 1615,732 1610,732 1606,728 1605,712 1603,706 1599,703 1583,702 1577,700 1571,690 1563,683 1562,676 1564,672ZM227,688 227,686 243,686 245,688 248,708 247,716 243,720 239,721 227,722 227,688ZM1706,688 1711,686 1771,687 1783,690 1787,692 1788,696 1787,700 1775,705 1747,708 1711,709 1707,708 1703,701 1703,695 1706,688ZM635,692 643,690 651,690 655,692 655,698 647,706 645,716 643,718 635,717 630,712 631,704 635,692ZM829,704 835,704 850,708 852,712 850,728 855,736 864,740 866,744 863,745 851,746 843,744 841,740 840,724 835,716 827,712 826,708 829,704ZM645,720 647,718 652,720 654,724 652,728 647,725 645,720ZM1866,724 1872,724 1879,730 1883,736 1883,740 1879,744 1874,744 1871,742 1867,735 1859,730 1855,730 1847,737 1844,736 1843,734 1843,732 1850,728 1866,724ZM570,736 575,734 595,734 603,734 609,736 612,740 612,744 607,760 603,761 602,760 595,748 591,746 571,746 567,744 566,740 570,736ZM761,736 771,734 779,734 785,736 788,740 789,744 789,756 787,762 783,765 779,764 763,758 758,744 758,740 761,736ZM926,736 931,736 943,740 947,748 951,752 963,755 969,764 977,768 980,772 981,816 980,820 975,824 971,824 963,812 955,806 951,798 939,790 934,776 932,756 923,744 923,740 926,736ZM1950,736 1955,734 1967,733 1991,736 1995,740 1996,744 1996,772 1993,776 1987,776 1979,765 1971,763 1955,766 1952,768 1950,772 1952,776 1959,781 1960,784 1960,792 1955,796 1935,798 1932,796 1931,785 1927,780 1923,778 1906,776 1901,772 1900,768 1903,766 1911,764 1919,756 1943,749 1947,744 1950,736ZM252,752 259,750 261,752 261,756 257,772 255,775 251,775 250,772 249,760 250,756 252,752ZM1895,752 1899,756 1899,765 1895,765 1891,760 1891,753 1895,752ZM874,756 875,754 879,756 879,761 875,761 874,756ZM1336,768 1339,767 1343,767 1347,771 1348,776 1345,780 1339,781 1335,777 1334,772 1336,768ZM2015,780 2019,779 2023,782 2026,788 2032,824 2032,836 2035,856 2040,868 2043,884 2042,888 2035,897 2030,908 2023,913 2019,912 2015,908 2010,896 2003,890 1987,890 1971,893 1968,892 1969,888 1973,884 1987,882 1989,880 1991,878 1995,864 2006,856 2007,850 1999,841 1999,836 2007,824 2007,820 2003,809 2003,802 2010,784 2015,780ZM1547,784 1551,782 1563,782 1583,787 1588,792 1589,796 1587,798 1551,798 1547,796 1543,792 1543,788 1547,784ZM1066,800 1071,799 1076,804 1078,824 1088,836 1087,842 1083,845 1075,846 1067,844 1059,834 1047,824 1047,819 1049,816 1059,810 1063,802 1066,800ZM1180,800 1183,798 1195,798 1199,800 1203,804 1203,808 1199,813 1183,813 1178,808 1178,804 1180,800ZM1402,800 1407,798 1419,798 1423,800 1427,804 1426,808 1419,810 1404,808 1399,804 1402,800ZM1465,800 1475,798 1487,799 1492,804 1492,808 1489,812 1483,814 1467,813 1462,808 1462,804 1465,800ZM1589,800 1591,798 1595,798 1615,802 1631,798 1659,798 1664,800 1667,804 1665,808 1663,809 1643,814 1599,814 1595,813 1591,809 1589,800ZM1889,800 1895,798 1903,797 1931,798 1932,800 1931,809 1922,820 1922,824 1927,836 1925,840 1920,844 1911,848 1903,848 1897,844 1891,837 1879,833 1871,824 1871,820 1879,814 1889,800ZM665,816 671,814 683,814 687,817 688,820 687,824 679,828 675,832 673,840 674,856 679,864 687,868 686,872 671,877 667,877 663,874 659,866 647,858 645,852 645,840 647,836 657,828 665,816ZM824,820 827,819 831,821 832,824 831,828 823,830 821,828 822,824 824,820ZM1950,820 1955,817 1960,820 1955,824 1950,820ZM810,832 819,830 821,832 821,844 819,846 811,845 807,841 806,836 810,832ZM537,836 539,833 543,836 539,837 537,836ZM838,836 843,834 850,836 857,844 865,848 867,851 867,857 863,861 859,862 831,862 825,860 822,856 821,848 823,846 832,844 838,836ZM1512,836 1519,835 1523,838 1527,856 1551,859 1569,868 1570,872 1567,876 1555,881 1535,882 1527,880 1523,876 1520,864 1513,860 1510,856 1509,844 1509,840 1512,836ZM1450,848 1455,847 1459,848 1463,852 1463,856 1459,859 1451,859 1447,856 1447,852 1450,848ZM1674,848 1679,848 1683,852 1683,856 1679,861 1671,862 1669,860 1670,852 1674,848ZM1224,852 1231,850 1243,850 1247,851 1251,854 1253,860 1254,888 1257,892 1265,896 1268,900 1268,904 1265,908 1259,910 1247,910 1243,909 1239,906 1237,900 1236,884 1233,880 1225,876 1222,872 1221,860 1224,852ZM1355,852 1359,850 1371,850 1377,852 1377,856 1359,861 1355,858 1355,852ZM1642,864 1647,862 1655,862 1667,862 1669,864 1668,868 1666,872 1655,874 1647,874 1641,872 1639,868 1642,864ZM1464,876 1467,873 1475,873 1480,876 1484,884 1479,906 1475,911 1471,913 1467,913 1459,911 1451,904 1451,900 1457,892 1461,880 1464,876ZM1496,876 1503,875 1507,876 1511,880 1512,884 1512,888 1508,892 1499,893 1495,892 1491,888 1490,884 1491,880 1496,876ZM796,880 799,880 803,882 807,890 811,893 831,895 835,898 837,904 837,912 836,916 833,920 827,921 823,920 815,911 795,909 791,906 789,900 789,888 791,884 796,880ZM526,884 528,884 527,888 526,884ZM1368,884 1375,883 1380,888 1381,900 1378,904 1375,905 1371,904 1366,888 1368,884ZM1953,896 1959,894 1967,894 1969,908 1977,916 1977,920 1971,921 1968,920 1963,916 1951,911 1949,904 1950,900 1953,896ZM426,900 431,899 435,900 446,908 449,912 451,920 449,936 443,940 435,942 415,945 407,944 402,940 402,936 404,928 411,915 426,900ZM1240,924 1247,922 1259,922 1267,924 1271,928 1273,936 1273,948 1271,956 1267,960 1263,961 1258,960 1255,957 1253,948 1250,944 1238,940 1234,936 1235,928 1240,924ZM1418,924 1423,923 1427,924 1431,928 1432,936 1430,940 1423,943 1419,944 1407,942 1400,940 1398,936 1400,932 1418,924ZM376,932 382,932 384,936 379,938 375,937 376,932ZM556,932 559,931 562,932 563,936 559,937 555,937 556,932ZM2017,932 2019,929 2023,931 2023,937 2019,938 2017,936 2017,932ZM1014,944 1019,944 1027,948 1027,952 1024,956 1019,959 1015,959 1011,957 1008,952 1008,948 1014,944ZM1466,948 1471,945 1478,948 1478,952 1471,954 1467,952 1466,948ZM598,952 600,952 603,976 603,988 600,996 597,1000 591,1001 571,996 567,992 569,988 582,980 589,972 594,964 598,952ZM1208,960 1215,959 1219,963 1220,968 1216,972 1211,973 1207,973 1203,969 1203,964 1208,960ZM1286,960 1291,959 1296,960 1300,964 1299,969 1295,973 1291,973 1286,972 1282,968 1282,964 1286,960ZM1338,960 1343,959 1348,964 1347,971 1343,976 1339,976 1334,972 1334,964 1338,960ZM308,984 315,984 319,987 322,996 321,1008 315,1024 311,1029 307,1030 303,1029 298,1024 296,1012 300,992 303,987 308,984ZM422,984 427,982 431,983 435,985 438,992 435,1000 431,1002 427,1002 422,1000 419,996 418,992 418,988 422,984ZM1604,984 1643,985 1650,988 1650,992 1645,996 1635,1000 1623,1003 1615,1002 1596,996 1592,992 1593,988 1595,986 1604,984ZM2060,1016 2063,1014 2067,1014 2067,1127 2043,1130 2035,1130 2030,1128 2025,1120 2026,1104 2033,1084 2054,1064 2061,1052 2062,1044 2057,1024 2060,1016ZM1450,1024 1455,1024 1458,1028 1457,1032 1451,1033 1448,1032 1447,1028 1450,1024ZM616,1036 627,1032 639,1035 663,1048 666,1052 666,1056 663,1060 656,1064 639,1073 627,1075 619,1074 611,1067 607,1056 609,1044 616,1036ZM1619,1044 1623,1043 1631,1043 1650,1048 1657,1052 1660,1056 1661,1060 1659,1064 1655,1067 1647,1069 1631,1069 1623,1067 1615,1061 1612,1056 1612,1052 1614,1048 1619,1044ZM1039,1048 1047,1044 1053,1048 1055,1052 1051,1060 1047,1062 1043,1062 1040,1060 1037,1056 1037,1052 1039,1048ZM840,1104 847,1101 859,1101 866,1104 868,1108 866,1112 863,1113 839,1118 837,1120 838,1124 841,1128 867,1136 875,1144 879,1145 884,1144 891,1136 895,1136 896,1140 895,1148 891,1152 884,1176 879,1178 859,1177 855,1180 854,1184 855,1192 859,1195 863,1196 879,1193 884,1192 891,1184 895,1184 902,1192 907,1194 951,1196 959,1200 961,1204 962,1240 960,1244 947,1260 935,1264 931,1268 926,1276 923,1278 911,1278 907,1276 903,1268 899,1264 887,1262 871,1263 859,1267 847,1277 827,1274 811,1277 795,1273 792,1272 791,1268 795,1263 815,1265 819,1264 822,1260 824,1256 823,1252 819,1248 815,1247 795,1245 791,1242 785,1232 777,1228 770,1220 767,1219 747,1218 742,1220 737,1228 731,1229 721,1224 715,1216 715,1208 717,1204 735,1189 739,1189 743,1193 747,1194 753,1192 755,1188 752,1184 741,1180 741,1172 744,1168 751,1166 787,1166 789,1164 787,1156 777,1148 774,1144 774,1140 783,1131 787,1120 791,1116 799,1115 815,1118 835,1118 837,1116 837,1108 840,1104ZM895,1206 891,1208 887,1213 883,1215 871,1211 863,1212 848,1224 847,1228 847,1232 851,1236 855,1237 867,1236 881,1232 891,1223 907,1220 911,1216 913,1212 911,1208 903,1205 895,1206ZM791,1166 789,1168 791,1176 795,1180 799,1180 803,1176 803,1172 799,1168 791,1166ZM1259,1108 1261,1108 1259,1108ZM965,1112 971,1110 977,1112 980,1116 979,1121 975,1125 967,1125 964,1120 965,1112ZM1195,1112 1195,1111 1199,1110 1199,1112 1199,1113 1195,1112ZM1807,1112 1815,1108 1819,1110 1821,1112 1823,1116 1819,1124 1811,1128 1807,1127 1804,1124 1803,1120 1807,1112ZM1150,1116 1155,1117 1167,1124 1167,1128 1155,1135 1151,1136 1147,1135 1144,1128 1144,1124 1147,1117 1150,1116ZM1549,1116 1559,1114 1567,1117 1595,1139 1599,1144 1599,1148 1597,1156 1578,1176 1575,1184 1573,1196 1571,1198 1543,1198 1541,1196 1539,1184 1536,1176 1531,1170 1519,1161 1515,1156 1515,1148 1519,1142 1543,1120 1549,1116ZM904,1124 911,1122 923,1123 926,1124 926,1128 919,1130 907,1129 903,1128 904,1124ZM1015,1128 1019,1127 1023,1130 1023,1133 1019,1136 1006,1132 1015,1128ZM951,1140 955,1137 959,1140 957,1144 955,1145 952,1144 951,1140ZM904,1156 909,1156 909,1160 905,1160 904,1156ZM939,1156 943,1153 944,1156 943,1158 939,1157 939,1156ZM2036,1176 2039,1175 2043,1176 2047,1179 2050,1184 2053,1192 2052,1240 2050,1248 2047,1252 2043,1254 2039,1254 2035,1251 2031,1239 2031,1188 2033,1180 2036,1176ZM1050,1196 1053,1196 1056,1200 1051,1204 1047,1200 1050,1196ZM1526,1200 1539,1198 1541,1200 1541,1232 1540,1240 1535,1247 1531,1249 1523,1250 1516,1248 1512,1244 1510,1236 1509,1224 1511,1216 1514,1208 1519,1203 1526,1200ZM1575,1200 1579,1200 1587,1202 1596,1208 1599,1216 1598,1220 1595,1223 1587,1225 1579,1220 1575,1212 1574,1204 1575,1200ZM984,1216 987,1213 994,1216 991,1220 987,1220 984,1216ZM1837,1216 1843,1212 1848,1216 1846,1220 1843,1222 1838,1220 1837,1216ZM1865,1332 1879,1328 1891,1331 1896,1336 1897,1340 1895,1348 1889,1356 1883,1361 1875,1363 1867,1362 1860,1356 1856,1348 1858,1340 1865,1332ZM1454,1372 1459,1370 1467,1371 1474,1376 1476,1384 1477,1408 1445,1408 1446,1384 1449,1376 1454,1372Z"/>
<path fill="#c1373a" fill-rule="evenodd" d="M325,300 373,300 373,308 371,312 367,316 363,318 335,318 329,316 326,312 325,300ZM730,300 834,300 833,320 832,324 829,328 806,344 799,346 767,347 747,350 731,350 726,352 715,360 683,360 675,356 666,348 664,344 669,340 681,336 715,335 726,332 730,328 731,324 730,300ZM767,316 763,318 761,324 763,329 767,330 773,328 775,324 774,320 771,317 767,316ZM873,300 966,300 966,304 964,312 959,315 948,312 944,308 943,305 939,305 938,308 934,312 927,314 916,312 912,308 911,305 907,305 896,328 891,330 881,328 876,324 873,312 873,300ZM1093,300 1143,300 1143,304 1141,312 1136,316 1115,322 1097,312 1094,308 1093,300ZM1155,300 1207,300 1207,308 1199,332 1195,334 1187,336 1179,334 1173,320 1171,318 1158,312 1155,308 1155,300ZM1219,300 1307,300 1307,304 1305,312 1299,316 1275,318 1227,314 1222,312 1219,308 1219,300ZM1481,300 1509,300 1508,312 1503,317 1487,318 1483,315 1482,312 1481,300ZM1541,300 1573,300 1572,308 1567,313 1555,314 1547,313 1542,308 1541,300ZM416,320 423,318 431,318 439,320 455,327 467,330 473,336 474,348 470,356 463,360 459,358 447,347 443,345 435,347 425,352 422,356 421,360 423,384 421,392 415,397 392,400 390,404 387,422 383,428 379,428 375,424 374,420 376,400 378,396 383,394 385,392 385,388 383,386 379,386 377,388 375,393 371,395 331,400 323,398 319,391 315,388 299,387 293,384 291,376 294,368 317,344 323,333 327,330 339,328 355,329 361,336 363,348 367,351 387,357 395,363 399,364 404,360 405,344 409,328 410,324 416,320ZM343,355 331,363 328,368 326,376 329,380 335,381 355,381 367,379 369,376 370,368 359,354 351,353 343,355ZM985,324 987,322 991,322 993,328 993,332 991,340 982,356 977,384 975,386 971,386 959,376 943,375 935,367 920,360 921,356 927,353 943,353 959,356 963,352 967,340 971,337 979,336 983,332 985,324ZM632,344 635,342 641,344 639,347 635,348 632,344ZM527,352 531,356 531,360 527,363 523,362 522,360 523,354 527,352ZM1019,352 1023,352 1028,356 1030,364 1027,365 1023,365 1019,364 1015,360 1014,356 1019,352ZM585,356 591,355 595,356 603,365 608,368 610,372 606,376 603,377 591,387 587,388 567,387 560,384 555,380 554,376 554,372 559,368 567,363 585,356ZM1517,356 1519,352 1523,354 1527,358 1539,363 1543,367 1546,372 1546,376 1545,380 1542,384 1535,387 1531,385 1519,376 1516,372 1516,368 1517,356ZM857,368 863,367 887,367 909,368 913,372 917,380 919,382 929,388 929,392 923,395 907,395 897,392 883,382 859,380 853,376 853,372 857,368ZM1030,368 1031,365 1055,364 1071,372 1069,376 1059,380 1039,382 1035,381 1031,377 1030,368ZM1436,368 1440,368 1443,372 1440,376 1435,377 1433,376 1432,372 1436,368ZM785,372 803,369 815,369 826,372 825,376 802,388 800,392 800,396 802,400 807,406 831,415 834,420 833,424 831,425 807,430 787,441 779,443 763,442 758,440 755,436 755,428 757,420 763,416 786,412 792,408 793,404 793,400 789,396 779,392 774,388 773,384 773,380 776,376 785,372ZM670,388 676,388 670,388ZM1150,392 1163,395 1179,396 1187,397 1193,404 1193,408 1187,415 1171,418 1163,419 1151,412 1148,408 1147,396 1150,392ZM1558,396 1563,393 1567,393 1587,404 1589,408 1589,420 1587,424 1579,430 1577,436 1579,442 1583,443 1599,440 1615,441 1623,448 1626,452 1626,456 1623,458 1607,462 1601,472 1595,475 1579,476 1563,473 1560,468 1560,436 1555,408 1556,400 1558,396ZM1705,396 1707,393 1715,393 1723,397 1727,400 1730,404 1732,412 1730,420 1727,423 1711,427 1707,427 1703,424 1701,408 1702,400 1705,396ZM298,400 304,400 307,404 305,408 297,408 295,404 298,400ZM863,400 873,404 872,408 863,410 854,408 853,404 855,403 863,400ZM1610,416 1615,415 1619,420 1619,424 1615,428 1611,428 1606,424 1606,420 1610,416ZM622,436 639,433 675,434 687,439 701,452 699,456 675,460 667,460 655,457 639,460 619,458 614,456 611,452 611,444 614,440 622,436ZM227,444 227,440 239,441 251,448 254,456 255,464 254,472 251,477 247,478 227,478 227,444ZM1685,444 1691,441 1695,441 1700,448 1702,456 1698,472 1699,476 1703,482 1710,484 1714,488 1706,496 1701,512 1700,520 1703,526 1715,528 1721,532 1722,540 1719,541 1703,541 1691,533 1689,524 1687,492 1663,472 1659,471 1639,478 1635,488 1631,492 1615,491 1610,488 1610,484 1611,483 1624,476 1627,472 1630,460 1639,453 1643,452 1647,453 1659,463 1663,463 1675,451 1685,444ZM469,448 475,446 483,446 490,448 503,456 507,456 539,449 555,449 569,452 573,456 573,460 571,462 551,464 541,468 525,488 511,495 503,496 487,493 481,488 472,468 463,458 459,457 442,456 447,454 455,455 469,448ZM381,464 387,462 411,462 417,464 419,467 419,472 415,476 411,477 383,477 378,472 378,468 381,464ZM795,480 803,478 847,479 852,484 853,492 852,500 847,505 835,508 819,515 811,516 795,526 779,527 767,536 763,536 753,528 745,524 731,508 730,504 730,500 743,491 751,489 783,488 795,480ZM444,484 448,484 451,488 447,505 443,492 442,488 444,484ZM689,484 699,480 703,480 711,484 713,488 711,492 707,495 699,496 688,492 684,488 689,484ZM423,512 439,512 442,516 440,520 435,525 427,529 415,531 407,530 404,524 404,520 406,516 411,514 423,512ZM1102,512 1111,510 1119,512 1127,521 1130,528 1131,544 1129,552 1126,556 1119,558 1115,558 1111,556 1108,552 1099,520 1099,516 1102,512ZM1646,512 1647,510 1659,520 1652,520 1647,517 1646,512ZM697,516 703,515 707,520 704,524 699,525 695,520 697,516ZM582,524 591,524 595,527 597,532 597,536 595,539 587,540 577,536 573,532 575,526 582,524ZM1047,532 1051,531 1059,530 1071,532 1075,535 1077,540 1077,548 1073,556 1063,562 1055,563 1043,561 1033,556 1030,552 1031,548 1047,532ZM317,540 331,537 339,538 345,544 347,552 351,555 367,551 379,542 387,539 395,537 403,537 411,540 419,547 427,556 430,564 428,568 419,572 395,573 386,576 379,580 377,584 382,596 380,600 372,608 366,616 359,619 347,619 341,616 332,604 331,600 332,592 338,584 339,579 337,576 311,561 309,556 309,548 311,544 317,540ZM251,544 255,546 256,548 260,564 259,569 255,573 250,572 246,568 245,564 246,548 251,544ZM1725,548 1727,545 1729,548 1727,550 1725,548ZM620,564 627,562 639,563 642,564 643,568 639,573 627,574 623,573 619,569 620,564ZM255,588 263,585 271,585 283,589 286,592 291,612 293,616 298,620 306,624 308,628 307,632 299,639 291,643 259,649 243,655 227,656 227,590 247,590 255,588ZM986,608 991,607 1007,611 1010,612 1012,616 1009,620 1003,622 987,621 984,620 982,616 982,612 986,608ZM1080,608 1083,606 1087,607 1091,612 1091,620 1087,623 1083,623 1078,620 1077,612 1080,608ZM1114,608 1119,606 1123,607 1129,612 1130,616 1130,620 1126,628 1125,636 1123,638 1115,637 1110,632 1111,613 1114,608ZM1196,608 1199,608 1203,611 1204,616 1199,618 1195,619 1190,616 1191,612 1196,608ZM1144,624 1151,622 1163,622 1171,625 1173,628 1173,644 1171,648 1167,652 1159,654 1135,654 1131,652 1127,648 1125,640 1127,638 1136,636 1144,624ZM393,660 399,659 401,660 415,674 416,680 411,685 367,686 361,684 359,681 359,676 363,672 383,669 393,660ZM783,672 787,676 787,680 783,683 779,682 778,680 779,674 783,672ZM227,704 227,702 235,703 237,704 240,708 239,712 235,714 227,714 227,704ZM329,704 339,702 351,703 355,708 355,712 351,716 347,718 331,717 326,712 326,708 329,704ZM1623,708 1627,705 1629,708 1627,712 1625,712 1623,708ZM535,760 539,757 543,757 547,760 543,765 538,764 535,760ZM391,764 395,762 403,762 407,765 410,772 410,780 405,792 404,808 399,813 375,810 347,813 342,808 341,800 339,798 323,800 311,799 296,792 294,788 299,772 315,767 331,766 337,768 340,772 341,796 343,798 383,797 387,792 386,788 377,780 375,776 378,772 391,764ZM942,768 947,766 959,767 964,772 963,779 959,782 943,781 940,776 939,772 942,768ZM1941,784 1947,784 1955,788 1951,791 1943,792 1939,788 1941,784ZM491,788 511,787 515,789 517,796 516,804 514,808 505,816 502,820 501,848 500,852 497,856 491,858 475,856 463,847 443,844 425,828 423,825 424,820 443,809 463,809 475,812 480,812 484,808 486,792 491,788ZM2017,792 2019,790 2020,792 2025,836 2029,848 2034,872 2033,888 2023,903 2019,903 2007,887 1998,880 1996,872 1999,864 2007,860 2010,856 2011,848 2006,840 2005,836 2014,828 2015,824 2013,804 2017,792ZM1899,800 1911,799 1917,800 1924,804 1925,808 1915,820 1915,824 1920,836 1919,840 1911,845 1907,846 1902,844 1895,834 1883,829 1880,824 1880,820 1887,809 1891,804 1899,800ZM390,832 399,831 403,834 407,842 415,849 416,856 415,859 411,862 383,862 377,864 374,868 372,884 369,888 363,889 359,887 357,884 356,872 355,871 349,868 339,868 331,869 326,872 325,876 326,888 329,892 337,896 339,900 335,905 319,909 315,909 311,906 305,896 297,892 295,889 295,884 305,876 307,872 299,856 300,848 304,844 315,841 331,845 351,846 367,849 371,848 375,844 379,836 390,832ZM1532,868 1535,867 1547,866 1552,868 1552,872 1547,874 1535,873 1532,872 1532,868ZM1464,880 1467,878 1471,877 1475,878 1479,884 1477,904 1471,910 1463,909 1458,904 1457,900 1464,880ZM424,908 431,906 435,907 443,912 446,916 446,920 442,936 437,940 431,942 415,943 407,941 405,936 407,928 424,908ZM1243,932 1251,930 1259,930 1263,932 1265,940 1263,951 1259,949 1258,944 1255,942 1242,936 1243,932ZM1418,932 1422,932 1424,936 1419,938 1415,936 1418,932ZM2062,1088 2063,1087 2067,1087 2067,1092 2063,1092 2062,1088ZM796,1124 801,1124 811,1133 827,1134 861,1140 871,1152 879,1156 879,1162 875,1165 871,1166 847,1166 843,1165 839,1162 835,1154 832,1152 827,1151 823,1154 819,1162 815,1165 811,1164 801,1152 791,1144 791,1136 796,1124ZM816,1180 827,1176 847,1177 851,1183 853,1192 855,1195 859,1197 867,1197 895,1193 907,1197 939,1197 950,1200 953,1204 954,1208 949,1224 948,1240 945,1252 941,1256 923,1262 911,1262 899,1258 883,1257 843,1261 839,1258 827,1245 819,1242 809,1240 804,1236 801,1232 798,1220 795,1215 767,1210 747,1210 743,1208 743,1204 769,1196 775,1186 779,1184 783,1184 791,1194 795,1196 799,1195 816,1180ZM899,1204 891,1206 883,1212 871,1209 863,1210 855,1215 846,1224 845,1228 847,1235 851,1238 859,1239 879,1236 883,1235 892,1228 911,1222 914,1216 915,1212 913,1208 907,1204 899,1204Z"/>
<path fill="#67001f" fill-rule="evenodd" d="M737,300 762,300 761,308 757,324 759,331 763,334 771,334 782,328 784,320 784,300 832,300 832,312 831,317 823,328 799,345 763,345 747,348 731,348 715,354 687,354 683,353 676,348 675,344 677,340 687,338 719,337 727,334 735,328 737,320 737,300ZM880,300 902,300 900,312 895,326 892,328 887,328 882,324 881,320 880,300ZM916,300 934,300 933,308 928,312 922,312 917,308 916,300ZM948,300 964,300 963,310 959,313 953,312 949,308 948,300ZM1104,300 1140,300 1140,308 1135,314 1119,318 1115,318 1111,316 1107,312 1105,308 1104,300ZM1158,300 1204,300 1203,312 1199,328 1193,332 1182,332 1179,329 1175,319 1171,315 1162,312 1159,309 1158,300ZM1222,300 1302,300 1302,304 1300,312 1295,314 1275,316 1227,312 1222,308 1222,300ZM419,324 427,321 435,322 438,324 440,328 440,332 436,336 431,338 423,337 418,332 418,328 419,324ZM987,328 987,327 991,328 987,335 987,328ZM327,336 335,333 351,334 355,337 357,340 357,344 353,348 338,352 330,356 324,368 323,380 319,383 299,382 295,377 295,372 313,352 321,348 327,336ZM452,336 459,334 466,336 469,340 469,344 467,349 463,352 459,352 455,349 450,340 452,336ZM970,340 975,339 984,340 975,380 971,382 967,380 964,376 962,368 962,360 967,344 970,340ZM925,356 935,355 947,356 952,360 952,364 948,368 943,369 924,360 925,356ZM1018,356 1023,355 1025,360 1023,361 1019,361 1018,356ZM377,364 383,363 387,365 395,376 411,378 415,379 419,386 418,392 411,395 403,396 395,396 391,393 387,383 375,379 375,368 377,364ZM580,364 591,362 595,364 599,372 598,376 595,380 591,383 579,383 571,382 566,380 562,376 563,372 567,368 571,366 580,364ZM1039,368 1055,368 1062,372 1059,377 1039,379 1034,376 1033,372 1035,369 1039,368ZM1524,368 1531,366 1538,368 1541,372 1541,376 1539,379 1535,382 1531,381 1527,378 1522,372 1524,368ZM792,372 815,371 818,372 819,376 795,386 790,384 787,380 787,376 792,372ZM857,372 867,369 907,370 911,372 914,380 918,384 926,388 925,392 915,393 904,392 883,380 859,377 857,376 857,372ZM333,384 367,383 370,384 371,388 369,392 367,393 331,396 325,392 325,388 327,385 333,384ZM383,400 386,404 385,420 383,424 379,425 377,420 378,404 379,402 383,400ZM1158,400 1167,399 1183,400 1188,404 1188,408 1183,412 1163,414 1159,412 1155,408 1154,404 1158,400ZM1561,400 1567,398 1571,400 1575,404 1577,408 1577,420 1573,436 1573,440 1576,444 1583,446 1611,445 1618,448 1620,452 1618,456 1606,460 1598,472 1579,474 1567,473 1563,470 1562,464 1562,436 1558,408 1559,404 1561,400ZM858,404 863,403 867,404 863,408 859,407 858,404ZM1705,404 1707,401 1711,401 1719,404 1723,412 1723,416 1720,420 1711,423 1707,423 1704,412 1705,404ZM794,412 799,410 827,416 832,420 829,424 811,427 799,430 783,441 767,441 762,440 759,437 758,428 758,424 761,420 767,418 787,415 794,412ZM631,436 643,435 674,436 687,444 694,452 690,456 675,458 663,457 655,452 651,452 639,458 619,456 615,452 615,448 619,443 631,436ZM227,448 227,445 235,445 243,448 247,452 248,456 247,461 243,465 239,466 227,467 227,448ZM1687,448 1695,446 1697,448 1700,452 1699,460 1695,466 1691,469 1687,477 1683,480 1679,481 1669,472 1667,468 1669,464 1679,456 1687,448ZM469,452 475,449 483,450 487,452 489,456 488,460 483,465 479,466 475,464 468,456 469,452ZM536,452 547,451 561,452 566,456 563,458 538,464 527,480 518,488 511,492 495,492 486,488 485,484 487,477 495,471 500,464 503,462 527,457 536,452ZM1641,460 1647,460 1653,464 1654,468 1651,472 1635,476 1631,489 1623,490 1614,488 1613,484 1630,476 1633,472 1636,464 1641,460ZM695,484 703,483 706,484 708,488 703,492 698,492 692,488 695,484ZM787,492 795,490 807,489 815,490 820,492 824,496 825,500 824,504 820,508 815,510 795,515 751,514 743,511 738,504 739,500 743,496 747,494 787,492ZM1692,492 1695,490 1699,492 1701,496 1699,520 1700,528 1715,532 1715,537 1707,539 1703,537 1691,525 1690,500 1692,492ZM411,516 431,514 435,516 435,520 431,524 415,526 409,524 407,520 411,516ZM1112,524 1115,523 1119,523 1123,527 1125,532 1126,548 1124,552 1119,555 1115,555 1112,552 1110,548 1108,532 1109,528 1112,524ZM584,528 592,528 595,532 594,536 591,538 583,536 580,532 584,528ZM1049,540 1055,538 1059,539 1063,543 1065,548 1064,552 1060,556 1055,558 1051,558 1046,556 1042,552 1042,548 1044,544 1049,540ZM316,544 331,541 339,544 341,548 341,552 339,559 335,562 331,562 315,557 312,552 312,548 316,544ZM389,544 395,542 399,542 405,544 412,552 422,560 423,564 421,568 415,570 391,571 367,578 359,577 355,573 353,568 354,564 357,560 379,554 383,551 389,544ZM345,588 355,585 367,586 374,592 376,596 374,600 363,610 355,611 347,609 340,604 338,600 338,596 340,592 345,588ZM261,592 267,590 271,590 276,592 279,595 281,600 282,616 295,624 297,628 296,632 291,637 283,639 276,636 271,628 267,628 264,636 260,640 251,644 243,651 239,653 227,653 227,601 251,601 255,599 261,592ZM1081,612 1083,610 1087,611 1089,616 1087,620 1083,620 1080,616 1081,612ZM1114,612 1119,609 1124,612 1125,616 1123,622 1119,624 1115,623 1113,616 1114,612ZM392,768 399,766 403,769 405,772 404,780 399,785 395,785 391,783 386,776 387,772 392,768ZM310,780 319,778 324,780 328,784 329,788 328,792 323,796 319,797 311,795 307,792 305,788 306,784 310,780ZM1899,804 1907,802 1911,802 1916,804 1918,808 1916,812 1907,820 1906,824 1914,832 1916,836 1914,840 1911,842 1907,843 1903,840 1899,832 1889,828 1885,824 1885,820 1887,815 1899,804ZM439,816 443,814 451,813 463,814 467,815 472,820 473,824 472,828 468,832 463,834 451,835 443,833 436,828 434,824 435,820 439,816ZM2018,844 2019,843 2023,845 2027,852 2029,872 2028,888 2023,895 2019,896 2015,892 2007,881 2001,876 1999,872 2000,868 2011,860 2015,847 2018,844ZM310,848 319,846 331,848 351,849 359,852 360,856 358,860 351,863 315,865 308,860 306,856 306,852 310,848ZM1465,884 1467,882 1471,881 1475,884 1475,900 1471,906 1467,907 1463,905 1461,900 1465,884ZM425,912 431,910 435,912 439,916 440,920 437,936 431,940 411,940 408,936 408,932 425,912ZM821,1184 831,1181 843,1181 847,1184 853,1196 859,1199 891,1197 903,1200 923,1199 939,1200 947,1203 949,1208 947,1213 939,1221 937,1240 935,1245 931,1249 919,1251 879,1249 859,1251 843,1250 835,1245 829,1236 811,1233 807,1230 805,1224 801,1208 802,1204 804,1200 814,1192 821,1184ZM895,1202 883,1209 879,1210 867,1207 859,1210 844,1224 843,1232 845,1236 847,1238 855,1241 879,1239 887,1236 895,1230 911,1227 914,1224 916,1220 917,1212 916,1208 907,1200 895,1202Z"/>
<path fill="#f09b7a" d="M2026.5,1312 L2034,1319 L2034,1381 L1993,1381 L1986,1376 L1993,1370 L2016,1370 L2014,1362 L2019,1355 L2019,1334 L2012,1331 L2004,1324 L2009,1320 L2019,1320 Z"/>
<path fill="#c1373a" d="M2026.5,1315 L2031.5,1321 L2031.5,1379 L1995,1379 L1989,1375.5 L1995,1371.5 L2020,1371.5 L2018,1363 L2022,1354 L2021,1322 Z"/>
<path fill="#67001f" d="M2026.5,1317 L2029,1322 L2028,1335 L2027.6,1352 L2029.5,1362 L2029,1377 L2022,1377 L2023,1362 L2026,1352 L2025.4,1335 L2024,1322 Z M1992,1375.3 L1996,1373.3 L2001,1374.4 L2006,1373.3 L2012,1374.6 L2016,1375.5 L2012,1376.6 L2006,1377.5 L2001,1376.4 L1996,1377.5 Z"/>
<!--dot1718--><path fill="#f09b7a" d="M1707.0,988 L1718.5,976.5 L1730.0,988 L1718.5,999.5 Z"/><path fill="#c1373a" d="M1709.0,988 L1718.5,978.5 L1728.0,988 L1718.5,997.5 Z"/><path fill="#67001f" d="M1711.0,988 L1718.5,980.5 L1726.0,988 L1718.5,995.5 Z"/>
<!--streakNC--><path fill="#67001f" d="M795,1141 L803,1137.5 L824,1136 L826,1140.5 L812,1143.5 Z M806,1154 L822,1154.5 L824.5,1160 L813,1159.5 Z M828.5,1146.5 L832,1143.5 L835.5,1146.5 L832,1149.5 Z"/>
</g>
<g clip-path="url(#mc)">
<path class="bd" d="M327.6,302.0 L650.7,459.0 L651.8,476.5 L679.9,487.5 L683.5,493.7 L703.6,500.2 L714.6,498.1 L732.8,510.1 L769.3,516.7 L775.5,521.1 L777.7,538.6 L770.4,545.9 L770.4,551.4 L782.9,558.3 L836.9,551.4 L931.8,536.4 L965.0,516.7"/>
<path class="bd" d="M836.9,551.4 L837.6,648.8 L827.8,652.5 L826.7,678.0 L820.5,700.0 L814.3,708.0 L798.6,716.4 L794.9,723.7 L659.8,727.3 L639.7,740.1 L594.1,741.9 L568.5,737.2 L543.0,736.5 L526.6,741.9 L521.1,745.6 L466.3,756.5 L457.2,762.8 L449.9,773.7 L422.5,780.3 L406.1,789.4 L404.2,800.4 L386.0,802.2 L384.2,818.6 L373.2,820.4 L342.2,809.5 L333.1,815.0 L319.2,826.6 L324.7,835.0 L324.7,846.0 L311.1,846.7 L313.7,856.9 L305.7,869.7 L289.2,877.0 L261.9,882.5 L257.5,886.2 L261.9,900.8 L260.0,911.7 L252.7,920.8 L251.6,942.0"/>
<path class="bd" d="M594.1,741.9 L592.3,756.5 L601.4,767.5 L605.0,783.9 L616.0,796.7 L641.6,809.5 L654.3,813.1 L641.6,816.8 L641.6,829.6 L672.6,847.8 L696.3,848.5 L701.8,844.2 L710.9,846.0 L716.4,855.1 L707.3,858.8 L714.6,869.7 L725.5,878.9 L718.2,895.3 L700.0,904.4 L667.1,912.4 L652.5,919.0 L637.9,922.7 L616.0,922.7 L614.2,924.5 L594.1,920.8 L583.1,919.0 L568.5,915.4 L550.3,919.0 L542.3,924.5 L539.3,922.7 L488.2,922.7 L411.5,922.7 L404.2,942.0"/>
<path class="bd" d="M725.5,878.9 L731.0,866.1 L754.7,858.8 L796.7,889.8 L793.1,904.4 L805.9,922.7 L809.5,942.0"/>
<path class="bd" d="M796.7,889.8 L802.2,851.5 L820.5,842.3 L829.6,827.7 L831.4,813.1 L849.7,800.4 L900.8,796.7 L915.4,790.5 L965.0,800.4"/>
<path class="bd" d="M229.0,574.0 L241.8,672.6 L258.2,678.0 L253.8,701.8 L247.3,716.4 L229.0,717.1"/>
<path class="bd" d="M583.1,919.0 L577.7,942.0"/>
<path class="bd" d="M634.3,922.7 L628.8,942.0"/>
<path class="bd" d="M965.0,515.6 L1304.5,350.2"/>
<path class="bd" d="M1304.5,350.2 L1286.3,319.5 L1280.8,316.6 L1260.7,311.1 L1227.9,302.0"/>
<path class="bd" d="M1304.5,350.2 L1395.8,364.8 L1439.6,389.6 L1488.9,375.0 L1551.0,351.3 L1701.0,406.1"/>
<path class="bd" d="M1488.9,375.0 L1499.9,440.7 L1523.6,468.1 L1522.5,473.6 L1547.3,497.3 L1530.9,515.6 L1519.9,652.5 L1415.9,736.5 L1404.9,762.0 L1397.6,765.7 L1397.6,776.6 L1401.3,785.8"/>
<path class="bd" d="M965.0,800.4 L983.3,816.8 L1008.8,829.6 L1021.6,824.8 L1056.3,816.1 L1085.5,827.7 L1111.0,836.9 L1164.0,839.8 L1184.1,822.3 L1220.6,815.0 L1275.3,813.9 L1315.5,825.9 L1333.7,826.6 L1344.7,816.8 L1373.9,806.9 L1384.9,802.9"/>
<path class="bd" d="M1439.6,856.9 L1457.9,875.2 L1465.2,886.2 L1463.4,900.8 L1439.6,909.9 L1417.7,919.0 L1406.8,931.8 L1401.3,942.0"/>
<path class="bd" d="M1463.4,842.3 L1481.6,853.3 L1490.7,886.2 L1492.6,942.0"/>
<path class="bd" d="M1701.0,405.0 L2029.1,531.7"/>
<path class="bd" d="M2060.5,510.4 L2030.8,510.4 L2030.8,705.8 L1994.2,707.6 L1971.5,712.1 L1968.0,717.4 L1971.5,726.1 L1967.0,734.1"/>
<path class="bd" d="M229.0,947.5 L247.3,946.4 L256.4,954.8 L280.1,971.2 L298.4,978.5 L316.6,985.8 L323.2,985.1 L323.9,978.5 L349.5,971.9 L382.3,973.0 L395.1,976.7 L404.2,987.6 L417.0,994.9"/>
<path class="bd" d="M404.2,942.0 L411.5,953.0 L417.0,994.9 L413.4,1009.5 L424.3,1020.5 L429.1,1049.7 L411.5,1066.1 L402.4,1086.2 L389.6,1106.3 L386.0,1126.4 L395.1,1150.1 L400.6,1168.4 L415.2,1169.1 L415.2,1192.1 L397.7,1193.9"/>
<path class="bt" d="M229.0,1195.7 L340.4,1187.3 L397.7,1193.9 L444.4,1201.9 L457.2,1209.6 L480.9,1197.6 L532.0,1186.6 L594.1,1164.0 L637.9,1162.2 L648.9,1148.3 L678.1,1141.0 L747.4,1133.7 L809.5,1131.9 L849.7,1137.3 L882.5,1153.8 L897.1,1175.7 L908.1,1193.9 L922.7,1215.8 L940.9,1226.8 L965.0,1224.9"/>
<path class="bd" d="M583.1,942.0 L601.4,954.8 L601.4,989.5 L612.4,996.8 L610.5,1022.3 L605.0,1027.8 L623.3,1040.6 L612.4,1082.6 L619.7,1117.2 L634.3,1135.5 L648.9,1148.3"/>
<path class="bd" d="M628.8,942.0 L630.6,951.1 L663.5,967.6 L665.3,996.8 L679.9,1013.2 L681.7,1104.5 L677.3,1108.1 L679.9,1124.5 L689.0,1135.5 L688.3,1141.0 L678.1,1141.0"/>
<path class="bd" d="M815.0,942.0 L800.4,949.3 L796.7,969.4 L774.8,989.5 L765.7,1007.7 L749.3,1011.4 L743.8,1062.5 L747.4,1133.7"/>
<path class="bt" d="M479.1,1029.6 L499.2,1025.2 L513.8,1031.4 L510.1,1011.4 L521.1,1024.1 L535.7,1033.3 L530.2,1042.4 L546.6,1051.5 L563.1,1049.7 L570.4,1058.8 L574.0,1075.3 L543.0,1080.7 L568.5,1082.6 L585.0,1084.4 L590.4,1095.3 L581.3,1113.6 L568.5,1122.7 L539.3,1113.6 L557.6,1120.9 L579.5,1131.9 L588.6,1144.6"/>
<path class="bt" d="M595.9,1016.8 L588.6,1036.9 L594.1,1051.5 L588.6,1062.5 L597.7,1080.7 L595.9,1102.6 L599.6,1120.9 L588.6,1135.5"/>
<path class="bt" d="M249.1,1055.9 L240.0,1069.8 L245.4,1082.6 L236.3,1088.0 L230.8,1093.5 L240.0,1102.6 L256.4,1108.1 L250.9,1095.3 L260.0,1088.0 L252.7,1080.7 L249.1,1069.8 L249.1,1055.9"/>
<path class="bd" d="M1401.3,942.0 L1395.8,958.4 L1384.9,963.9 L1381.2,987.6 L1363.0,994.9 L1359.3,1020.5 L1341.0,1031.4 L1321.0,1038.8 L1319.1,1060.7 L1308.2,1078.9 L1295.4,1089.9 L1293.6,1102.6 L1280.8,1111.8 L1271.7,1124.5 L1251.6,1126.4 L1235.2,1108.1 L1220.6,1099.7 L1218.7,1109.9 L1196.8,1109.9 L1195.0,1106.3 L1187.7,1107.0 L1171.3,1117.2 L1162.2,1126.4 L1140.2,1141.0 L1118.3,1157.4 L1114.7,1175.7 L1105.6,1193.9 L1097.2,1207.8"/>
<path class="bd" d="M1496.2,942.0 L1512.6,956.6 L1529.1,968.3 L1512.6,969.4 L1439.6,969.4 L1430.5,978.5 L1430.5,985.8 L1450.6,1002.2 L1476.1,1018.7 L1501.7,1033.3 L1510.8,1051.5 L1522.5,1069.8 L1521.8,1080.7 L1496.2,1102.6 L1483.4,1120.9 L1468.8,1139.2 L1454.2,1148.3 L1456.1,1153.8 L1465.2,1157.4 L1464.5,1179.3 L1459.7,1183.7 L1468.8,1190.3 L1470.7,1208.5 L1490.7,1226.8 L1496.2,1245.0 L1516.3,1263.3 L1534.6,1279.7 L1551.0,1290.7 L1554.6,1318.0 L1558.3,1321.7 L1552.8,1334.5 L1556.5,1347.3 L1551.0,1349.8 L1534.6,1340.0 L1498.0,1335.6 L1465.2,1327.2 L1384.9,1326.4 L1384.1,1323.5 L1271.7,1321.7 L1268.0,1327.2 L1176.8,1327.2 L1173.1,1321.7"/>
<path class="bd" d="M1521.8,1080.7 L1534.6,1083.7 L1563.8,1077.1 L1582.0,1068.0 L1599.5,1080.7 L1622.2,1071.6 L1651.4,1060.7 L1701.0,1058.1"/>
<path class="bd" d="M1558.3,1321.7 L1578.4,1298.0 L1582.0,1281.5 L1585.7,1265.1 L1636.8,1257.8 L1682.4,1265.1 L1701.0,1261.5"/>
<path class="bd" d="M1701.0,1287.0 L1678.8,1325.4 L1675.1,1343.6 L1660.5,1376.5 L1664.2,1400.2"/>
<path class="bt" d="M1122.0,1223.9 L1125.6,1237.7 L1140.2,1245.0 L1151.2,1246.9 L1164.0,1241.4 L1173.1,1250.5 L1165.8,1259.6 L1176.8,1272.4 L1182.2,1281.5 L1176.8,1307.1 L1173.1,1321.7 L1169.5,1343.6 L1154.9,1361.9 L1147.5,1372.8 L1164.0,1380.1 L1160.3,1385.6 L1162.2,1400.2"/>
<path class="bd" d="M1268.0,1327.2 L1267.3,1383.8 L1198.7,1384.5 L1184.1,1388.1 L1160.3,1385.6"/>
<path class="bd" d="M1384.9,1326.4 L1377.6,1340.0 L1375.7,1354.6 L1383.0,1360.0 L1377.6,1368.4 L1388.5,1369.2 L1425.0,1361.9 L1443.3,1365.5 L1456.1,1385.6 L1446.9,1400.2"/>
<path class="bt" d="M1091.0,1272.4 L1105.6,1255.3 L1120.2,1255.3 L1121.3,1263.3 L1107.4,1279.7 L1091.0,1276.1 L1091.0,1272.4"/>
<path class="bt" d="M1025.2,1350.9 L1032.5,1350.2 L1030.7,1356.4 L1025.2,1355.3 L1025.2,1350.9"/>
<path class="bd" d="M1701.0,1057.2 L1707.5,1053.3 L1724.6,1041.5 L1736.4,1028.4 L1723.3,1019.3 L1735.0,1014.0 L1774.3,1012.2 L1796.6,1007.0 L1814.9,1007.0 L1824.1,998.3 L1843.7,989.1 L1868.6,968.2 L1884.3,957.7 L1894.8,951.2 L1894.8,942.0"/>
<path class="bd" d="M1978.6,942.0 L1997.0,955.1 L2010.1,970.8 L2011.4,986.5 L2008.8,1002.2 L1998.3,1010.1 L2006.1,1016.6 L2002.2,1020.6 L2003.5,1027.1 L2046.7,1028.4 L2045.4,1037.6 L2041.5,1042.8 L2049.3,1046.8 L2059.8,1048.1"/>
<path class="bd" d="M1701.0,1289.0 L1708.9,1277.3 L1703.6,1258.9 L1707.5,1232.7 L1724.6,1211.8 L1745.5,1194.8 L1762.6,1190.3 L1778.3,1192.1 L1784.8,1197.4 L1816.2,1214.4 L1818.9,1220.9 L1826.7,1224.3 L1842.4,1222.8 L1862.1,1229.6 L1867.3,1227.0 L1889.6,1229.6 L1913.2,1232.2 L1926.2,1237.4 L1939.3,1235.3 L1948.5,1222.3 L1968.2,1206.0 L1994.3,1214.9 L2010.1,1209.2 L2044.1,1200.8 L2054.6,1194.0 L2059.8,1193.4"/>
<path class="bd" d="M1967.7,734.0 L1958.1,739.7 L1953.6,746.5 L1951.9,753.3 L1946.2,755.6 L1937.1,757.8 L1934.3,761.8 L1936.5,766.9 L1937.7,773.7 L1944.5,774.3 L1943.9,777.7 L1933.7,781.7 L1924.6,786.8 L1919.0,793.0 L1917.2,798.7 L1921.2,804.4 L1924.1,811.2 L1928.0,813.4 L1924.6,819.1 L1915.5,823.6 L1908.7,827.0 L1903.6,832.7 L1902.5,838.4 L1904.2,844.6 L1907.6,846.3 L1915.5,845.8 L1924.6,843.5 L1931.4,846.3 L1935.4,852.0 L1934.3,856.6 L1937.7,864.5 L1939.9,874.7 L1948.5,874.9 L1948.5,880.4 L1944.5,888.3 L1946.2,895.1 L1954.7,901.9 L1960.9,904.0 L1968.9,904.0 L1968.9,912.2 L1964.3,925.2"/>
<path class="bd" d="M1894.6,942.0 L1899.7,931.4 L1908.7,928.0 L1922.4,926.9 L1931.4,924.1 L1942.8,922.7 L1955.3,923.7 L1964.3,925.2 L1970.0,933.7 L1982.5,942.0"/>
<path class="bt" d="M785.5,1133.7 L787.5,1128.3 L792.3,1125.6 L799.0,1127.0 L808.5,1123.6 L813.9,1124.9 L805.8,1128.3 L795.0,1131.0 L788.2,1133.7"/>
<path class="bt" d="M888.1,1161.4 L890.8,1163.4 L894.8,1158.7 L904.2,1154.6"/>
<path class="bt" d="M893.5,1172.2 L897.5,1170.1 L902.9,1169.5 L909.6,1167.4 L916.4,1168.8"/>
<path class="bt" d="M900.2,1178.9 L911.0,1177.6 L916.4,1173.5 L923.1,1174.2"/>
<path class="bt" d="M911.0,1177.6 L916.4,1180.9 L912.3,1182.9 L905.6,1182.9"/>
<path class="bt" d="M907.6,1192.4 L913.0,1191.7 L911.7,1188.3 L908.3,1189.0 L907.6,1192.4"/>
<path class="bt" d="M947.4,1230.2 L950.8,1226.1 L954.2,1230.2 L956.9,1226.8 L960.2,1224.1 L963.6,1228.1"/>
<path class="bt" d="M963.6,1228.1 L970.4,1229.5 L978.5,1228.1 L990.6,1226.8 L1004.1,1226.8 L1013.0,1224.1"/>
<path class="bt" d="M965.0,1224.9 L970.8,1228.7 L976.5,1228.3 L981.3,1220.1 L983.2,1227.8 L988.0,1227.3 L992.8,1214.3 L996.7,1225.9 L1003.4,1224.9 L1002.4,1212.4 L1007.2,1222.0 L1010.1,1211.5 L1018.8,1219.1 L1013.0,1225.9 L1024.5,1222.0 L1032.2,1220.1 L1038.0,1217.2 L1041.8,1221.5 L1061.0,1218.7 L1080.2,1218.7 L1083.1,1215.3 L1082.6,1210.5 L1078.3,1203.8 L1081.2,1201.9 L1086.0,1207.6 L1089.8,1204.7 L1088.9,1210.5 L1094.6,1210.0 L1097.5,1207.6 L1099.4,1208.6 L1098.9,1216.3 L1095.6,1220.1 L1099.4,1221.5 L1104.2,1220.1 L1103.3,1212.4 L1109.0,1211.5 L1108.1,1217.2 L1112.9,1216.3 L1114.8,1211.5 L1118.6,1219.1 L1122.5,1217.2 L1119.6,1223.9 L1120.5,1230.7"/>
<path class="bt" d="M1400.9,785.4 L1393.2,788.1 L1380.8,792.7 L1383.2,797.2 L1387.8,798.2 L1385.9,801.8"/>
<path class="bt" d="M1387.8,798.2 L1389.6,806.4 L1395.1,813.7 L1402.4,821.0 L1409.7,824.6 L1415.1,829.2 L1420.6,825.5 L1416.1,831.9 L1417.9,839.2 L1417.0,843.8 L1419.7,848.4 L1426.1,853.8 L1432.5,854.7 L1438.0,852.9 L1438.9,859.3"/>
<path class="bt" d="M1400.9,785.4 L1406.0,787.2 L1413.3,792.7 L1418.8,798.2 L1417.9,804.5 L1413.3,808.2 L1415.1,812.8 L1422.4,816.4 L1426.1,812.8 L1438.0,809.1 L1440.7,811.9 L1437.1,815.5 L1438.0,820.1 L1442.5,823.7 L1449.8,821.0 L1460.8,819.2 L1471.7,820.1 L1480.9,822.8 L1484.5,827.4 L1495.5,829.2 L1500.0,831.9 L1493.6,834.7 L1479.0,836.5 L1464.4,838.3 L1461.7,841.1 L1459.0,839.2 L1457.1,844.7 L1442.5,847.4 L1440.7,851.1 L1438.9,859.3"/>
</g>
<rect x="229" y="302" width="1831" height="1098" fill="none" stroke="#3c3c3c" stroke-width="1.7"/>
<text class="t ttl" x="1144.5" y="291" xml:space="preserve">Vverticale (Pa/s), 600hPa, VT : 20180729  09:00</text>
<line x1="195" y1="510.5" x2="229" y2="510.5" stroke="#222" stroke-width="1.4"/>
<text class="t ax" x="183.5" y="518.8" text-anchor="end">20°N</text>
<line x1="195" y1="740" x2="229" y2="740" stroke="#222" stroke-width="1.4"/>
<text class="t ax" x="183.5" y="748.3" text-anchor="end">15°N</text>
<line x1="195" y1="969" x2="229" y2="969" stroke="#222" stroke-width="1.4"/>
<text class="t ax" x="183.5" y="977.3" text-anchor="end">10°N</text>
<line x1="195" y1="1197.5" x2="229" y2="1197.5" stroke="#222" stroke-width="1.4"/>
<text class="t ax" x="183.5" y="1205.8" text-anchor="end">5°N</text>
<line x1="279.5" y1="1400" x2="279.5" y2="1435" stroke="#222" stroke-width="1.4"/>
<text class="t ax" x="279.5" y="1464.2" text-anchor="middle">5°W</text>
<line x1="581.3" y1="1400" x2="581.3" y2="1435" stroke="#222" stroke-width="1.4"/>
<text class="t ax" x="581.3" y="1464.2" text-anchor="middle">0°</text>
<line x1="883.1" y1="1400" x2="883.1" y2="1435" stroke="#222" stroke-width="1.4"/>
<text class="t ax" x="883.1" y="1464.2" text-anchor="middle">5°E</text>
<line x1="1184.9" y1="1400" x2="1184.9" y2="1435" stroke="#222" stroke-width="1.4"/>
<text class="t ax" x="1184.9" y="1464.2" text-anchor="middle">10°E</text>
<line x1="1486.7" y1="1400" x2="1486.7" y2="1435" stroke="#222" stroke-width="1.4"/>
<text class="t ax" x="1486.7" y="1464.2" text-anchor="middle">15°E</text>
<line x1="1788.5" y1="1400" x2="1788.5" y2="1435" stroke="#222" stroke-width="1.4"/>
<text class="t ax" x="1788.5" y="1464.2" text-anchor="middle">20°E</text>
<rect x="322.50" y="1483" width="205.70" height="14.3" fill="#67001f"/>
<rect x="527.90" y="1483" width="205.70" height="14.3" fill="#c1373a"/>
<rect x="733.30" y="1483" width="205.70" height="14.3" fill="#f09b7a"/>
<rect x="938.70" y="1483" width="205.70" height="14.3" fill="#fce2d4"/>
<rect x="1144.10" y="1483" width="205.70" height="14.3" fill="#d9e8f1"/>
<rect x="1349.50" y="1483" width="205.70" height="14.3" fill="#87bedb"/>
<rect x="1554.90" y="1483" width="205.70" height="14.3" fill="#3079b6"/>
<rect x="1760.30" y="1483" width="205.70" height="14.3" fill="#053061"/>
<line x1="527.90" y1="1483" x2="527.90" y2="1497.3" stroke="#222" stroke-width="1"/>
<line x1="733.30" y1="1483" x2="733.30" y2="1497.3" stroke="#222" stroke-width="1"/>
<line x1="938.70" y1="1483" x2="938.70" y2="1497.3" stroke="#222" stroke-width="1"/>
<line x1="1144.10" y1="1483" x2="1144.10" y2="1497.3" stroke="#222" stroke-width="1"/>
<line x1="1349.50" y1="1483" x2="1349.50" y2="1497.3" stroke="#222" stroke-width="1"/>
<line x1="1554.90" y1="1483" x2="1554.90" y2="1497.3" stroke="#222" stroke-width="1"/>
<line x1="1760.30" y1="1483" x2="1760.30" y2="1497.3" stroke="#222" stroke-width="1"/>
<rect x="322.5" y="1483" width="1643.2" height="14.3" fill="none" stroke="#555" stroke-width="1"/>
<text class="t cb" x="527.9" y="1520">-0.3</text>
<text class="t cb" x="733.3" y="1520">-0.2</text>
<text class="t cb" x="938.7" y="1520">-0.1</text>
<text class="t cb" x="1144.1" y="1520">0</text>
<text class="t cb" x="1349.5" y="1520">0.1</text>
<text class="t cb" x="1554.9" y="1520">0.2</text>
<text class="t cb" x="1760.3" y="1520">0.3</text>
</svg>
</body></html>
